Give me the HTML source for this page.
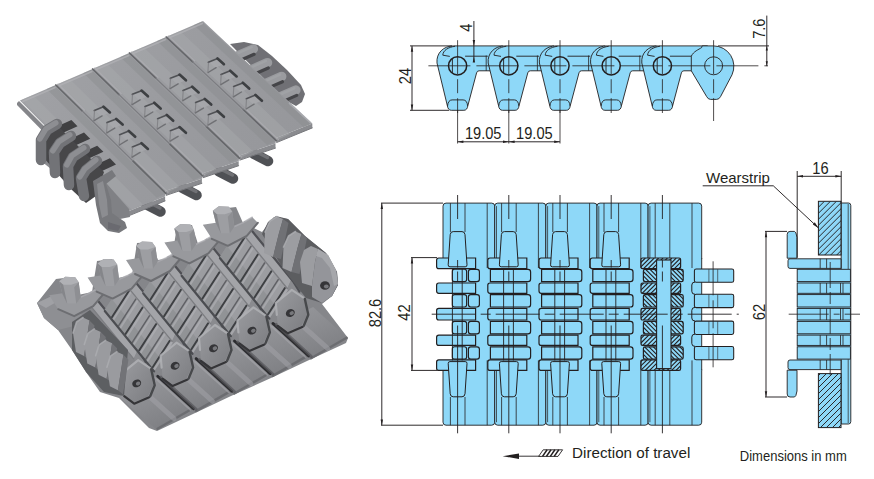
<!DOCTYPE html>
<html><head><meta charset="utf-8"><title>Chain</title>
<style>
html,body{margin:0;padding:0;background:#fff;}
svg{display:block;font-family:"Liberation Sans",sans-serif;}
</style></head><body>
<svg width="874" height="479" viewBox="0 0 874 479">
<rect width="874" height="479" fill="#fff"/>
<g stroke="#231f20" stroke-width="0.9" fill="#8ed8f8" stroke-linejoin="round">
<path d="M453.6,45.9 L502.8,45.9 L502.8,70.8 L479.1,70.8 Q477.2,70.8 476.6,72.8 L467.9,105.5 Q467.2,110.3 463.9,110.3 L451.3,110.3 Q448.0,110.3 447.3,105.5 L437.0,63.0 C436.0,53.0 443.6,45.9 453.6,45.9 Z"/>
<path d="M465.1,56.2 L487.8,56.2" fill="none"/>
<path d="M455.1,46.3 C448.1,47.1 443.0,50.5 442.8,55.2 L449.8,56.4" fill="none"/>
<path d="M447.5,106.0 Q448.2,99.9 452.1,99.9 L463.1,99.9 Q467.0,99.9 467.7,106.0" fill="none"/>
<path d="M504.8,45.9 L554.0,45.9 L554.0,70.8 L530.3,70.8 Q528.4,70.8 527.8,72.8 L519.1,105.5 Q518.4,110.3 515.1,110.3 L502.5,110.3 Q499.2,110.3 498.5,105.5 L488.2,63.0 C487.2,53.0 494.8,45.9 504.8,45.9 Z"/>
<path d="M486.2,55.5 L486.2,70.8" fill="none" stroke-width="0.8"/>
<path d="M516.3,56.2 L539.0,56.2" fill="none"/>
<path d="M506.3,46.3 C499.3,47.1 494.2,50.5 494.0,55.2 L501.0,56.4" fill="none"/>
<path d="M498.7,106.0 Q499.4,99.9 503.3,99.9 L514.3,99.9 Q518.2,99.9 518.9,106.0" fill="none"/>
<path d="M556.0,45.9 L605.2,45.9 L605.2,70.8 L581.5,70.8 Q579.6,70.8 579.0,72.8 L570.3,105.5 Q569.6,110.3 566.3,110.3 L553.7,110.3 Q550.4,110.3 549.7,105.5 L539.4,63.0 C538.4,53.0 546.0,45.9 556.0,45.9 Z"/>
<path d="M537.4,55.5 L537.4,70.8" fill="none" stroke-width="0.8"/>
<path d="M567.5,56.2 L590.2,56.2" fill="none"/>
<path d="M557.5,46.3 C550.5,47.1 545.4,50.5 545.2,55.2 L552.2,56.4" fill="none"/>
<path d="M549.9,106.0 Q550.6,99.9 554.5,99.9 L565.5,99.9 Q569.4,99.9 570.1,106.0" fill="none"/>
<path d="M607.2,45.9 L656.4,45.9 L656.4,70.8 L632.7,70.8 Q630.8,70.8 630.2,72.8 L621.5,105.5 Q620.8,110.3 617.5,110.3 L604.9,110.3 Q601.6,110.3 600.9,105.5 L590.6,63.0 C589.6,53.0 597.2,45.9 607.2,45.9 Z"/>
<path d="M588.6,55.5 L588.6,70.8" fill="none" stroke-width="0.8"/>
<path d="M618.7,56.2 L641.4,56.2" fill="none"/>
<path d="M608.7,46.3 C601.7,47.1 596.6,50.5 596.4,55.2 L603.4,56.4" fill="none"/>
<path d="M601.1,106.0 Q601.8,99.9 605.7,99.9 L616.7,99.9 Q620.6,99.9 621.3,106.0" fill="none"/>
<path d="M658.4,45.9 L707.6,45.9 L707.6,70.8 L683.9,70.8 Q682.0,70.8 681.4,72.8 L672.7,105.5 Q672.0,110.3 668.7,110.3 L656.1,110.3 Q652.8,110.3 652.1,105.5 L641.8,63.0 C640.8,53.0 648.4,45.9 658.4,45.9 Z"/>
<path d="M639.8,55.5 L639.8,70.8" fill="none" stroke-width="0.8"/>
<path d="M669.9,56.2 L692.6,56.2" fill="none"/>
<path d="M659.9,46.3 C652.9,47.1 647.8,50.5 647.6,55.2 L654.6,56.4" fill="none"/>
<path d="M652.3,106.0 Q653.0,99.9 656.9,99.9 L667.9,99.9 Q671.8,99.9 672.5,106.0" fill="none"/>
<path d="M702.2,45.9 L713.6,45.9 A20.4,20.4 0 0 1 732.0,74.8 L720.6,96.5 Q719.2,99.4 716.6,99.4 L710.6,99.4 Q708.0,99.4 706.6,96.5 L691.3,70.8 L691.3,56.2 C693.6,51.3 698.6,49.6 701.6,47.6 L702.2,45.9 Z"/>
</g>
<circle cx="457.6" cy="65.8" r="9.1" fill="#8ed8f8" stroke="#231f20" stroke-width="1.5"/>
<path d="M452.4,58.8 L452.4,72.8" stroke="#231f20" stroke-width="0.9"/>
<circle cx="508.8" cy="65.8" r="9.1" fill="#8ed8f8" stroke="#231f20" stroke-width="1.5"/>
<path d="M503.6,58.8 L503.6,72.8" stroke="#231f20" stroke-width="0.9"/>
<circle cx="560.0" cy="65.8" r="9.1" fill="#8ed8f8" stroke="#231f20" stroke-width="1.5"/>
<path d="M554.8,58.8 L554.8,72.8" stroke="#231f20" stroke-width="0.9"/>
<circle cx="611.2" cy="65.8" r="9.1" fill="#8ed8f8" stroke="#231f20" stroke-width="1.5"/>
<path d="M606.0,58.8 L606.0,72.8" stroke="#231f20" stroke-width="0.9"/>
<circle cx="662.4" cy="65.8" r="9.1" fill="#8ed8f8" stroke="#231f20" stroke-width="1.5"/>
<path d="M657.2,58.8 L657.2,72.8" stroke="#231f20" stroke-width="0.9"/>
<circle cx="713.6" cy="65.8" r="9.0" fill="#8ed8f8" stroke="#231f20" stroke-width="0.9"/>
<line x1="428.4" y1="65.8" x2="768.0" y2="65.8" stroke="#231f20" stroke-width="0.80" stroke-dasharray="42 6"/>
<line x1="457.6" y1="40.2" x2="457.6" y2="113.0" stroke="#231f20" stroke-width="0.80" stroke-dasharray="34 5 14 5 30"/>
<line x1="457.6" y1="110.0" x2="457.6" y2="143.5" stroke="#231f20" stroke-width="0.80"/>
<line x1="508.8" y1="40.2" x2="508.8" y2="113.0" stroke="#231f20" stroke-width="0.80" stroke-dasharray="34 5 14 5 30"/>
<line x1="508.8" y1="110.0" x2="508.8" y2="143.5" stroke="#231f20" stroke-width="0.80"/>
<line x1="560.0" y1="40.2" x2="560.0" y2="113.0" stroke="#231f20" stroke-width="0.80" stroke-dasharray="34 5 14 5 30"/>
<line x1="560.0" y1="110.0" x2="560.0" y2="143.5" stroke="#231f20" stroke-width="0.80"/>
<line x1="611.2" y1="40.2" x2="611.2" y2="113.0" stroke="#231f20" stroke-width="0.80" stroke-dasharray="34 5 14 5 30"/>
<line x1="662.4" y1="40.2" x2="662.4" y2="113.0" stroke="#231f20" stroke-width="0.80" stroke-dasharray="34 5 14 5 30"/>
<line x1="713.6" y1="40.2" x2="713.6" y2="121.0" stroke="#231f20" stroke-width="0.80" stroke-dasharray="34 5 14 5 30"/>
<line x1="410.0" y1="45.9" x2="452.0" y2="45.9" stroke="#231f20" stroke-width="0.95"/>
<line x1="410.0" y1="110.3" x2="449.0" y2="110.3" stroke="#231f20" stroke-width="0.95"/>
<line x1="412.0" y1="45.9" x2="412.0" y2="110.3" stroke="#231f20" stroke-width="0.95"/>
<polygon points="412.0,45.9 410.8,51.7 413.2,51.7" fill="#231f20"/>
<polygon points="412.0,110.3 410.8,104.5 413.2,104.5" fill="#231f20"/>
<text x="410.6" y="76.0" font-size="16.0" text-anchor="middle" fill="#231f20" textLength="16.3" lengthAdjust="spacingAndGlyphs" transform="rotate(-90 410.6 76.0)">24</text>
<line x1="473.9" y1="21.0" x2="473.9" y2="61.5" stroke="#231f20" stroke-width="0.95"/>
<polygon points="473.9,45.9 472.7,40.1 475.1,40.1" fill="#231f20"/>
<polygon points="473.9,56.8 472.7,62.6 475.1,62.6" fill="#231f20"/>
<text x="471.8" y="27.6" font-size="16.0" text-anchor="middle" fill="#231f20" textLength="8.1" lengthAdjust="spacingAndGlyphs" transform="rotate(-90 471.8 27.6)">4</text>
<line x1="718.0" y1="45.9" x2="769.0" y2="45.9" stroke="#231f20" stroke-width="0.95"/>
<line x1="766.8" y1="15.6" x2="766.8" y2="66.1" stroke="#231f20" stroke-width="0.95"/>
<polygon points="766.8,45.9 765.7,50.5 767.9,50.5" fill="#231f20"/>
<polygon points="766.8,65.8 765.7,61.2 767.9,61.2" fill="#231f20"/>
<text x="765.0" y="28.7" font-size="16.0" text-anchor="middle" fill="#231f20" textLength="20.3" lengthAdjust="spacingAndGlyphs" transform="rotate(-90 765.0 28.7)">7.6</text>
<line x1="457.6" y1="141.8" x2="560.0" y2="141.8" stroke="#231f20" stroke-width="0.95"/>
<polygon points="457.6,141.8 463.4,140.6 463.4,143.0" fill="#231f20"/>
<polygon points="508.8,141.8 503.0,140.6 503.0,143.0" fill="#231f20"/>
<polygon points="508.8,141.8 514.6,140.6 514.6,143.0" fill="#231f20"/>
<polygon points="560.0,141.8 554.2,140.6 554.2,143.0" fill="#231f20"/>
<text x="483.2" y="139.0" font-size="16.0" text-anchor="middle" fill="#231f20" textLength="36.6" lengthAdjust="spacingAndGlyphs">19.05</text>
<text x="534.4" y="139.0" font-size="16.0" text-anchor="middle" fill="#231f20" textLength="36.6" lengthAdjust="spacingAndGlyphs">19.05</text>
<path d="M443.0,259.0 L443.0,206.1 Q443.0,203.1 446.0,203.1 L491.7,203.1 Q494.7,203.1 494.7,206.1 L494.7,259.0 Z" fill="#8ed8f8" stroke="#231f20" stroke-width="0.9"/>
<path d="M443.0,369.4 L443.0,422.2 Q443.0,425.2 446.0,425.2 L491.7,425.2 Q494.7,425.2 494.7,422.2 L494.7,369.4 Z" fill="#8ed8f8" stroke="#231f20" stroke-width="0.9"/>
<path d="M494.7,259.0 L494.7,206.1 Q494.7,203.1 497.7,203.1 L542.8,203.1 Q545.8,203.1 545.8,206.1 L545.8,259.0 Z" fill="#8ed8f8" stroke="#231f20" stroke-width="0.9"/>
<path d="M494.7,369.4 L494.7,422.2 Q494.7,425.2 497.7,425.2 L542.8,425.2 Q545.8,425.2 545.8,422.2 L545.8,369.4 Z" fill="#8ed8f8" stroke="#231f20" stroke-width="0.9"/>
<path d="M545.8,259.0 L545.8,206.1 Q545.8,203.1 548.8,203.1 L594.0,203.1 Q597.0,203.1 597.0,206.1 L597.0,259.0 Z" fill="#8ed8f8" stroke="#231f20" stroke-width="0.9"/>
<path d="M545.8,369.4 L545.8,422.2 Q545.8,425.2 548.8,425.2 L594.0,425.2 Q597.0,425.2 597.0,422.2 L597.0,369.4 Z" fill="#8ed8f8" stroke="#231f20" stroke-width="0.9"/>
<path d="M597.0,259.0 L597.0,206.1 Q597.0,203.1 600.0,203.1 L645.1,203.1 Q648.1,203.1 648.1,206.1 L648.1,259.0 Z" fill="#8ed8f8" stroke="#231f20" stroke-width="0.9"/>
<path d="M597.0,369.4 L597.0,422.2 Q597.0,425.2 600.0,425.2 L645.1,425.2 Q648.1,425.2 648.1,422.2 L648.1,369.4 Z" fill="#8ed8f8" stroke="#231f20" stroke-width="0.9"/>
<path d="M648.1,259.0 L648.1,206.1 Q648.1,203.1 651.1,203.1 L698.7,203.1 Q701.7,203.1 701.7,206.1 L701.7,259.0 Z" fill="#8ed8f8" stroke="#231f20" stroke-width="0.9"/>
<path d="M648.1,369.4 L648.1,422.2 Q648.1,425.2 651.1,425.2 L698.7,425.2 Q701.7,425.2 701.7,422.2 L701.7,369.4 Z" fill="#8ed8f8" stroke="#231f20" stroke-width="0.9"/>
<rect x="452" y="258.0" width="249.7" height="112.4" fill="#8ed8f8"/>
<line x1="701.7" y1="258.0" x2="701.7" y2="370.4" stroke="#231f20" stroke-width="0.90"/>
<line x1="450.4" y1="203.1" x2="450.4" y2="232.0" stroke="#231f20" stroke-width="0.80"/>
<line x1="450.4" y1="397.0" x2="450.4" y2="425.2" stroke="#231f20" stroke-width="0.80"/>
<line x1="465.0" y1="203.1" x2="465.0" y2="232.0" stroke="#231f20" stroke-width="0.80"/>
<line x1="465.0" y1="397.0" x2="465.0" y2="425.2" stroke="#231f20" stroke-width="0.80"/>
<line x1="487.2" y1="203.1" x2="487.2" y2="268.0" stroke="#231f20" stroke-width="0.80"/>
<line x1="487.2" y1="360.4" x2="487.2" y2="425.2" stroke="#231f20" stroke-width="0.80"/>
<line x1="496.5" y1="206.1" x2="496.5" y2="260.0" stroke="#231f20" stroke-width="0.70"/>
<line x1="496.5" y1="368.4" x2="496.5" y2="422.2" stroke="#231f20" stroke-width="0.70"/>
<line x1="501.6" y1="203.1" x2="501.6" y2="232.0" stroke="#231f20" stroke-width="0.80"/>
<line x1="501.6" y1="397.0" x2="501.6" y2="425.2" stroke="#231f20" stroke-width="0.80"/>
<line x1="516.2" y1="203.1" x2="516.2" y2="232.0" stroke="#231f20" stroke-width="0.80"/>
<line x1="516.2" y1="397.0" x2="516.2" y2="425.2" stroke="#231f20" stroke-width="0.80"/>
<line x1="538.4" y1="203.1" x2="538.4" y2="268.0" stroke="#231f20" stroke-width="0.80"/>
<line x1="538.4" y1="360.4" x2="538.4" y2="425.2" stroke="#231f20" stroke-width="0.80"/>
<line x1="547.6" y1="206.1" x2="547.6" y2="260.0" stroke="#231f20" stroke-width="0.70"/>
<line x1="547.6" y1="368.4" x2="547.6" y2="422.2" stroke="#231f20" stroke-width="0.70"/>
<line x1="552.8" y1="203.1" x2="552.8" y2="232.0" stroke="#231f20" stroke-width="0.80"/>
<line x1="552.8" y1="397.0" x2="552.8" y2="425.2" stroke="#231f20" stroke-width="0.80"/>
<line x1="567.4" y1="203.1" x2="567.4" y2="232.0" stroke="#231f20" stroke-width="0.80"/>
<line x1="567.4" y1="397.0" x2="567.4" y2="425.2" stroke="#231f20" stroke-width="0.80"/>
<line x1="589.6" y1="203.1" x2="589.6" y2="268.0" stroke="#231f20" stroke-width="0.80"/>
<line x1="589.6" y1="360.4" x2="589.6" y2="425.2" stroke="#231f20" stroke-width="0.80"/>
<line x1="598.8" y1="206.1" x2="598.8" y2="260.0" stroke="#231f20" stroke-width="0.70"/>
<line x1="598.8" y1="368.4" x2="598.8" y2="422.2" stroke="#231f20" stroke-width="0.70"/>
<line x1="604.0" y1="203.1" x2="604.0" y2="232.0" stroke="#231f20" stroke-width="0.80"/>
<line x1="604.0" y1="397.0" x2="604.0" y2="425.2" stroke="#231f20" stroke-width="0.80"/>
<line x1="618.6" y1="203.1" x2="618.6" y2="232.0" stroke="#231f20" stroke-width="0.80"/>
<line x1="618.6" y1="397.0" x2="618.6" y2="425.2" stroke="#231f20" stroke-width="0.80"/>
<line x1="640.8" y1="203.1" x2="640.8" y2="268.0" stroke="#231f20" stroke-width="0.80"/>
<line x1="640.8" y1="360.4" x2="640.8" y2="425.2" stroke="#231f20" stroke-width="0.80"/>
<line x1="649.9" y1="206.1" x2="649.9" y2="260.0" stroke="#231f20" stroke-width="0.70"/>
<line x1="649.9" y1="368.4" x2="649.9" y2="422.2" stroke="#231f20" stroke-width="0.70"/>
<line x1="655.2" y1="203.1" x2="655.2" y2="260.0" stroke="#231f20" stroke-width="0.80"/>
<line x1="655.2" y1="368.4" x2="655.2" y2="425.2" stroke="#231f20" stroke-width="0.80"/>
<line x1="669.8" y1="203.1" x2="669.8" y2="260.0" stroke="#231f20" stroke-width="0.80"/>
<line x1="669.8" y1="368.4" x2="669.8" y2="425.2" stroke="#231f20" stroke-width="0.80"/>
<line x1="692.0" y1="203.1" x2="692.0" y2="268.0" stroke="#231f20" stroke-width="0.80"/>
<line x1="692.0" y1="360.4" x2="692.0" y2="425.2" stroke="#231f20" stroke-width="0.80"/>
<path d="M696.2,269.0 L731.9,269.0 Q733.7,269.0 733.7,270.8 L733.7,280.4 Q733.7,282.2 731.9,282.2 L696.2,282.2 Q694.4,282.2 694.4,280.4 L694.4,270.8 Q694.4,269.0 696.2,269.0 Z" fill="#8ed8f8" stroke="#231f20" stroke-width="1.05"/>
<line x1="708.9" y1="269.3" x2="708.9" y2="282.0" stroke="#231f20" stroke-width="0.60"/>
<line x1="717.7" y1="269.3" x2="717.7" y2="282.0" stroke="#231f20" stroke-width="0.60"/>
<path d="M696.2,294.3 L731.9,294.3 Q733.7,294.3 733.7,296.1 L733.7,305.8 Q733.7,307.6 731.9,307.6 L696.2,307.6 Q694.4,307.6 694.4,305.8 L694.4,296.1 Q694.4,294.3 696.2,294.3 Z" fill="#8ed8f8" stroke="#231f20" stroke-width="1.05"/>
<line x1="708.9" y1="294.6" x2="708.9" y2="307.4" stroke="#231f20" stroke-width="0.60"/>
<line x1="717.7" y1="294.6" x2="717.7" y2="307.4" stroke="#231f20" stroke-width="0.60"/>
<path d="M696.2,321.1 L731.9,321.1 Q733.7,321.1 733.7,322.9 L733.7,332.6 Q733.7,334.4 731.9,334.4 L696.2,334.4 Q694.4,334.4 694.4,332.6 L694.4,322.9 Q694.4,321.1 696.2,321.1 Z" fill="#8ed8f8" stroke="#231f20" stroke-width="1.05"/>
<line x1="708.9" y1="321.4" x2="708.9" y2="334.2" stroke="#231f20" stroke-width="0.60"/>
<line x1="717.7" y1="321.4" x2="717.7" y2="334.2" stroke="#231f20" stroke-width="0.60"/>
<path d="M696.2,346.5 L731.9,346.5 Q733.7,346.5 733.7,348.3 L733.7,357.9 Q733.7,359.7 731.9,359.7 L696.2,359.7 Q694.4,359.7 694.4,357.9 L694.4,348.3 Q694.4,346.5 696.2,346.5 Z" fill="#8ed8f8" stroke="#231f20" stroke-width="1.05"/>
<line x1="708.9" y1="346.8" x2="708.9" y2="359.5" stroke="#231f20" stroke-width="0.60"/>
<line x1="717.7" y1="346.8" x2="717.7" y2="359.5" stroke="#231f20" stroke-width="0.60"/>
<path d="M695.0,282.0 Q691.8,282.0 691.8,285.0 L691.8,291.3 Q691.8,294.3 695.0,294.3" fill="none" stroke="#231f20" stroke-width="1.0"/>
<path d="M695.0,307.4 Q691.8,307.4 691.8,310.4 L691.8,318.0 Q691.8,321.0 695.0,321.0" fill="none" stroke="#231f20" stroke-width="1.0"/>
<path d="M695.0,334.1 Q691.8,334.1 691.8,337.1 L691.8,343.4 Q691.8,346.4 695.0,346.4" fill="none" stroke="#231f20" stroke-width="1.0"/>
<path d="M438.8,258.0 L475.6,258.0 Q475.6,258.0 475.6,258.0 L475.6,268.6 Q475.6,268.6 475.6,268.6 L438.8,268.6 Q436.6,268.6 436.6,266.4 L436.6,260.2 Q436.6,258.0 438.8,258.0 Z" fill="#8ed8f8" stroke="#231f20" stroke-width="1.20"/>
<path d="M454.5,269.3 L464.4,269.3 Q466.6,269.3 466.6,271.5 L466.6,279.4 Q466.6,281.6 464.4,281.6 L454.5,281.6 Q452.3,281.6 452.3,279.4 L452.3,271.5 Q452.3,269.3 454.5,269.3 Z" fill="#8ed8f8" stroke="#231f20" stroke-width="1.10"/>
<path d="M470.8,269.3 L477.0,269.3 Q479.4,269.3 479.4,271.7 L479.4,279.2 Q479.4,281.6 477.0,281.6 L470.8,281.6 Q468.4,281.6 468.4,279.2 L468.4,271.7 Q468.4,269.3 470.8,269.3 Z" fill="#8ed8f8" stroke="#231f20" stroke-width="1.20"/>
<path d="M438.8,283.0 L475.6,283.0 Q475.6,283.0 475.6,283.0 L475.6,293.3 Q475.6,293.3 475.6,293.3 L438.8,293.3 Q436.6,293.3 436.6,291.1 L436.6,285.2 Q436.6,283.0 438.8,283.0 Z" fill="#8ed8f8" stroke="#231f20" stroke-width="1.20"/>
<path d="M454.5,294.6 L464.4,294.6 Q466.6,294.6 466.6,296.8 L466.6,304.8 Q466.6,307.0 464.4,307.0 L454.5,307.0 Q452.3,307.0 452.3,304.8 L452.3,296.8 Q452.3,294.6 454.5,294.6 Z" fill="#8ed8f8" stroke="#231f20" stroke-width="1.10"/>
<path d="M470.8,294.6 L477.0,294.6 Q479.4,294.6 479.4,297.0 L479.4,304.6 Q479.4,307.0 477.0,307.0 L470.8,307.0 Q468.4,307.0 468.4,304.6 L468.4,297.0 Q468.4,294.6 470.8,294.6 Z" fill="#8ed8f8" stroke="#231f20" stroke-width="1.20"/>
<path d="M438.8,308.4 L475.6,308.4 Q475.6,308.4 475.6,308.4 L475.6,320.0 Q475.6,320.0 475.6,320.0 L438.8,320.0 Q436.6,320.0 436.6,317.8 L436.6,310.6 Q436.6,308.4 438.8,308.4 Z" fill="#8ed8f8" stroke="#231f20" stroke-width="1.20"/>
<path d="M454.5,321.4 L464.4,321.4 Q466.6,321.4 466.6,323.6 L466.6,331.6 Q466.6,333.8 464.4,333.8 L454.5,333.8 Q452.3,333.8 452.3,331.6 L452.3,323.6 Q452.3,321.4 454.5,321.4 Z" fill="#8ed8f8" stroke="#231f20" stroke-width="1.10"/>
<path d="M470.8,321.4 L477.0,321.4 Q479.4,321.4 479.4,323.8 L479.4,331.4 Q479.4,333.8 477.0,333.8 L470.8,333.8 Q468.4,333.8 468.4,331.4 L468.4,323.8 Q468.4,321.4 470.8,321.4 Z" fill="#8ed8f8" stroke="#231f20" stroke-width="1.20"/>
<path d="M438.8,335.1 L475.6,335.1 Q475.6,335.1 475.6,335.1 L475.6,345.4 Q475.6,345.4 475.6,345.4 L438.8,345.4 Q436.6,345.4 436.6,343.2 L436.6,337.3 Q436.6,335.1 438.8,335.1 Z" fill="#8ed8f8" stroke="#231f20" stroke-width="1.20"/>
<path d="M454.5,346.8 L464.4,346.8 Q466.6,346.8 466.6,349.0 L466.6,356.9 Q466.6,359.1 464.4,359.1 L454.5,359.1 Q452.3,359.1 452.3,356.9 L452.3,349.0 Q452.3,346.8 454.5,346.8 Z" fill="#8ed8f8" stroke="#231f20" stroke-width="1.10"/>
<path d="M470.8,346.8 L477.0,346.8 Q479.4,346.8 479.4,349.2 L479.4,356.7 Q479.4,359.1 477.0,359.1 L470.8,359.1 Q468.4,359.1 468.4,356.7 L468.4,349.2 Q468.4,346.8 470.8,346.8 Z" fill="#8ed8f8" stroke="#231f20" stroke-width="1.20"/>
<path d="M438.8,359.8 L475.6,359.8 Q475.6,359.8 475.6,359.8 L475.6,370.4 Q475.6,370.4 475.6,370.4 L438.8,370.4 Q436.6,370.4 436.6,368.2 L436.6,362.0 Q436.6,359.8 438.8,359.8 Z" fill="#8ed8f8" stroke="#231f20" stroke-width="1.20"/>
<line x1="452.4" y1="268.0" x2="452.4" y2="360.4" stroke="#231f20" stroke-width="0.90"/>
<line x1="462.2" y1="268.0" x2="462.2" y2="360.4" stroke="#231f20" stroke-width="0.90"/>
<path d="M490.0,258.0 L526.8,258.0 Q526.8,258.0 526.8,258.0 L526.8,268.6 Q526.8,268.6 526.8,268.6 L490.0,268.6 Q487.8,268.6 487.8,266.4 L487.8,260.2 Q487.8,258.0 490.0,258.0 Z" fill="#8ed8f8" stroke="#231f20" stroke-width="1.20"/>
<path d="M490.4,269.3 L528.0,269.3 Q530.6,269.3 530.6,271.9 L530.6,279.0 Q530.6,281.6 528.0,281.6 L490.4,281.6 Q490.4,281.6 490.4,281.6 L490.4,269.3 Q490.4,269.3 490.4,269.3 Z" fill="#8ed8f8" stroke="#231f20" stroke-width="1.20"/>
<path d="M490.0,283.0 L526.8,283.0 Q526.8,283.0 526.8,283.0 L526.8,293.3 Q526.8,293.3 526.8,293.3 L490.0,293.3 Q487.8,293.3 487.8,291.1 L487.8,285.2 Q487.8,283.0 490.0,283.0 Z" fill="#8ed8f8" stroke="#231f20" stroke-width="1.20"/>
<path d="M490.4,294.6 L528.0,294.6 Q530.6,294.6 530.6,297.2 L530.6,304.4 Q530.6,307.0 528.0,307.0 L490.4,307.0 Q490.4,307.0 490.4,307.0 L490.4,294.6 Q490.4,294.6 490.4,294.6 Z" fill="#8ed8f8" stroke="#231f20" stroke-width="1.20"/>
<path d="M490.0,308.4 L526.8,308.4 Q526.8,308.4 526.8,308.4 L526.8,320.0 Q526.8,320.0 526.8,320.0 L490.0,320.0 Q487.8,320.0 487.8,317.8 L487.8,310.6 Q487.8,308.4 490.0,308.4 Z" fill="#8ed8f8" stroke="#231f20" stroke-width="1.20"/>
<path d="M490.4,321.4 L528.0,321.4 Q530.6,321.4 530.6,324.0 L530.6,331.2 Q530.6,333.8 528.0,333.8 L490.4,333.8 Q490.4,333.8 490.4,333.8 L490.4,321.4 Q490.4,321.4 490.4,321.4 Z" fill="#8ed8f8" stroke="#231f20" stroke-width="1.20"/>
<path d="M490.0,335.1 L526.8,335.1 Q526.8,335.1 526.8,335.1 L526.8,345.4 Q526.8,345.4 526.8,345.4 L490.0,345.4 Q487.8,345.4 487.8,343.2 L487.8,337.3 Q487.8,335.1 490.0,335.1 Z" fill="#8ed8f8" stroke="#231f20" stroke-width="1.20"/>
<path d="M490.4,346.8 L528.0,346.8 Q530.6,346.8 530.6,349.4 L530.6,356.5 Q530.6,359.1 528.0,359.1 L490.4,359.1 Q490.4,359.1 490.4,359.1 L490.4,346.8 Q490.4,346.8 490.4,346.8 Z" fill="#8ed8f8" stroke="#231f20" stroke-width="1.20"/>
<path d="M490.0,359.8 L526.8,359.8 Q526.8,359.8 526.8,359.8 L526.8,370.4 Q526.8,370.4 526.8,370.4 L490.0,370.4 Q487.8,370.4 487.8,368.2 L487.8,362.0 Q487.8,359.8 490.0,359.8 Z" fill="#8ed8f8" stroke="#231f20" stroke-width="1.20"/>
<line x1="503.6" y1="268.0" x2="503.6" y2="360.4" stroke="#231f20" stroke-width="0.90"/>
<line x1="513.4" y1="268.0" x2="513.4" y2="360.4" stroke="#231f20" stroke-width="0.90"/>
<path d="M541.2,258.0 L578.0,258.0 Q578.0,258.0 578.0,258.0 L578.0,268.6 Q578.0,268.6 578.0,268.6 L541.2,268.6 Q539.0,268.6 539.0,266.4 L539.0,260.2 Q539.0,258.0 541.2,258.0 Z" fill="#8ed8f8" stroke="#231f20" stroke-width="1.20"/>
<path d="M541.6,269.3 L579.2,269.3 Q581.8,269.3 581.8,271.9 L581.8,279.0 Q581.8,281.6 579.2,281.6 L541.6,281.6 Q541.6,281.6 541.6,281.6 L541.6,269.3 Q541.6,269.3 541.6,269.3 Z" fill="#8ed8f8" stroke="#231f20" stroke-width="1.20"/>
<path d="M541.2,283.0 L578.0,283.0 Q578.0,283.0 578.0,283.0 L578.0,293.3 Q578.0,293.3 578.0,293.3 L541.2,293.3 Q539.0,293.3 539.0,291.1 L539.0,285.2 Q539.0,283.0 541.2,283.0 Z" fill="#8ed8f8" stroke="#231f20" stroke-width="1.20"/>
<path d="M541.6,294.6 L579.2,294.6 Q581.8,294.6 581.8,297.2 L581.8,304.4 Q581.8,307.0 579.2,307.0 L541.6,307.0 Q541.6,307.0 541.6,307.0 L541.6,294.6 Q541.6,294.6 541.6,294.6 Z" fill="#8ed8f8" stroke="#231f20" stroke-width="1.20"/>
<path d="M541.2,308.4 L578.0,308.4 Q578.0,308.4 578.0,308.4 L578.0,320.0 Q578.0,320.0 578.0,320.0 L541.2,320.0 Q539.0,320.0 539.0,317.8 L539.0,310.6 Q539.0,308.4 541.2,308.4 Z" fill="#8ed8f8" stroke="#231f20" stroke-width="1.20"/>
<path d="M541.6,321.4 L579.2,321.4 Q581.8,321.4 581.8,324.0 L581.8,331.2 Q581.8,333.8 579.2,333.8 L541.6,333.8 Q541.6,333.8 541.6,333.8 L541.6,321.4 Q541.6,321.4 541.6,321.4 Z" fill="#8ed8f8" stroke="#231f20" stroke-width="1.20"/>
<path d="M541.2,335.1 L578.0,335.1 Q578.0,335.1 578.0,335.1 L578.0,345.4 Q578.0,345.4 578.0,345.4 L541.2,345.4 Q539.0,345.4 539.0,343.2 L539.0,337.3 Q539.0,335.1 541.2,335.1 Z" fill="#8ed8f8" stroke="#231f20" stroke-width="1.20"/>
<path d="M541.6,346.8 L579.2,346.8 Q581.8,346.8 581.8,349.4 L581.8,356.5 Q581.8,359.1 579.2,359.1 L541.6,359.1 Q541.6,359.1 541.6,359.1 L541.6,346.8 Q541.6,346.8 541.6,346.8 Z" fill="#8ed8f8" stroke="#231f20" stroke-width="1.20"/>
<path d="M541.2,359.8 L578.0,359.8 Q578.0,359.8 578.0,359.8 L578.0,370.4 Q578.0,370.4 578.0,370.4 L541.2,370.4 Q539.0,370.4 539.0,368.2 L539.0,362.0 Q539.0,359.8 541.2,359.8 Z" fill="#8ed8f8" stroke="#231f20" stroke-width="1.20"/>
<line x1="554.8" y1="268.0" x2="554.8" y2="360.4" stroke="#231f20" stroke-width="0.90"/>
<line x1="564.6" y1="268.0" x2="564.6" y2="360.4" stroke="#231f20" stroke-width="0.90"/>
<path d="M592.4,258.0 L629.2,258.0 Q629.2,258.0 629.2,258.0 L629.2,268.6 Q629.2,268.6 629.2,268.6 L592.4,268.6 Q590.2,268.6 590.2,266.4 L590.2,260.2 Q590.2,258.0 592.4,258.0 Z" fill="#8ed8f8" stroke="#231f20" stroke-width="1.20"/>
<path d="M592.8,269.3 L630.4,269.3 Q633.0,269.3 633.0,271.9 L633.0,279.0 Q633.0,281.6 630.4,281.6 L592.8,281.6 Q592.8,281.6 592.8,281.6 L592.8,269.3 Q592.8,269.3 592.8,269.3 Z" fill="#8ed8f8" stroke="#231f20" stroke-width="1.20"/>
<path d="M592.4,283.0 L629.2,283.0 Q629.2,283.0 629.2,283.0 L629.2,293.3 Q629.2,293.3 629.2,293.3 L592.4,293.3 Q590.2,293.3 590.2,291.1 L590.2,285.2 Q590.2,283.0 592.4,283.0 Z" fill="#8ed8f8" stroke="#231f20" stroke-width="1.20"/>
<path d="M592.8,294.6 L630.4,294.6 Q633.0,294.6 633.0,297.2 L633.0,304.4 Q633.0,307.0 630.4,307.0 L592.8,307.0 Q592.8,307.0 592.8,307.0 L592.8,294.6 Q592.8,294.6 592.8,294.6 Z" fill="#8ed8f8" stroke="#231f20" stroke-width="1.20"/>
<path d="M592.4,308.4 L629.2,308.4 Q629.2,308.4 629.2,308.4 L629.2,320.0 Q629.2,320.0 629.2,320.0 L592.4,320.0 Q590.2,320.0 590.2,317.8 L590.2,310.6 Q590.2,308.4 592.4,308.4 Z" fill="#8ed8f8" stroke="#231f20" stroke-width="1.20"/>
<path d="M592.8,321.4 L630.4,321.4 Q633.0,321.4 633.0,324.0 L633.0,331.2 Q633.0,333.8 630.4,333.8 L592.8,333.8 Q592.8,333.8 592.8,333.8 L592.8,321.4 Q592.8,321.4 592.8,321.4 Z" fill="#8ed8f8" stroke="#231f20" stroke-width="1.20"/>
<path d="M592.4,335.1 L629.2,335.1 Q629.2,335.1 629.2,335.1 L629.2,345.4 Q629.2,345.4 629.2,345.4 L592.4,345.4 Q590.2,345.4 590.2,343.2 L590.2,337.3 Q590.2,335.1 592.4,335.1 Z" fill="#8ed8f8" stroke="#231f20" stroke-width="1.20"/>
<path d="M592.8,346.8 L630.4,346.8 Q633.0,346.8 633.0,349.4 L633.0,356.5 Q633.0,359.1 630.4,359.1 L592.8,359.1 Q592.8,359.1 592.8,359.1 L592.8,346.8 Q592.8,346.8 592.8,346.8 Z" fill="#8ed8f8" stroke="#231f20" stroke-width="1.20"/>
<path d="M592.4,359.8 L629.2,359.8 Q629.2,359.8 629.2,359.8 L629.2,370.4 Q629.2,370.4 629.2,370.4 L592.4,370.4 Q590.2,370.4 590.2,368.2 L590.2,362.0 Q590.2,359.8 592.4,359.8 Z" fill="#8ed8f8" stroke="#231f20" stroke-width="1.20"/>
<line x1="606.0" y1="268.0" x2="606.0" y2="360.4" stroke="#231f20" stroke-width="0.90"/>
<line x1="615.8" y1="268.0" x2="615.8" y2="360.4" stroke="#231f20" stroke-width="0.90"/>
<path d="M448.2,264.8 L450.2,234.6 Q450.5,231.6 453.2,231.6 L462.0,231.6 Q464.7,231.6 465.0,234.6 L467.0,264.8 Q467.2,266.8 465.2,266.8 L450.0,266.8 Q448.0,266.8 448.2,264.8 Z" fill="#8ed8f8" stroke="#231f20" stroke-width="1.0"/>
<path d="M448.2,363.6 L450.2,393.8 Q450.5,396.8 453.2,396.8 L462.0,396.8 Q464.7,396.8 465.0,393.8 L467.0,363.6 Q467.2,361.6 465.2,361.6 L450.0,361.6 Q448.0,361.6 448.2,363.6 Z" fill="#8ed8f8" stroke="#231f20" stroke-width="1.0"/>
<path d="M499.4,264.8 L501.4,234.6 Q501.7,231.6 504.4,231.6 L513.2,231.6 Q515.9,231.6 516.2,234.6 L518.2,264.8 Q518.4,266.8 516.4,266.8 L501.2,266.8 Q499.2,266.8 499.4,264.8 Z" fill="#8ed8f8" stroke="#231f20" stroke-width="1.0"/>
<path d="M499.4,363.6 L501.4,393.8 Q501.7,396.8 504.4,396.8 L513.2,396.8 Q515.9,396.8 516.2,393.8 L518.2,363.6 Q518.4,361.6 516.4,361.6 L501.2,361.6 Q499.2,361.6 499.4,363.6 Z" fill="#8ed8f8" stroke="#231f20" stroke-width="1.0"/>
<path d="M550.6,264.8 L552.6,234.6 Q552.9,231.6 555.6,231.6 L564.4,231.6 Q567.1,231.6 567.4,234.6 L569.4,264.8 Q569.6,266.8 567.6,266.8 L552.4,266.8 Q550.4,266.8 550.6,264.8 Z" fill="#8ed8f8" stroke="#231f20" stroke-width="1.0"/>
<path d="M550.6,363.6 L552.6,393.8 Q552.9,396.8 555.6,396.8 L564.4,396.8 Q567.1,396.8 567.4,393.8 L569.4,363.6 Q569.6,361.6 567.6,361.6 L552.4,361.6 Q550.4,361.6 550.6,363.6 Z" fill="#8ed8f8" stroke="#231f20" stroke-width="1.0"/>
<path d="M601.8,264.8 L603.8,234.6 Q604.1,231.6 606.8,231.6 L615.6,231.6 Q618.3,231.6 618.6,234.6 L620.6,264.8 Q620.8,266.8 618.8,266.8 L603.6,266.8 Q601.6,266.8 601.8,264.8 Z" fill="#8ed8f8" stroke="#231f20" stroke-width="1.0"/>
<path d="M601.8,363.6 L603.8,393.8 Q604.1,396.8 606.8,396.8 L615.6,396.8 Q618.3,396.8 618.6,393.8 L620.6,363.6 Q620.8,361.6 618.8,361.6 L603.6,361.6 Q601.6,361.6 601.8,363.6 Z" fill="#8ed8f8" stroke="#231f20" stroke-width="1.0"/>
<defs><pattern id="hf" width="3.6" height="3.6" patternUnits="userSpaceOnUse" patternTransform="rotate(45)"><rect width="3.6" height="3.6" fill="#8ed8f8"/><line x1="0" y1="0" x2="0" y2="3.6" stroke="#231f20" stroke-width="1.5"/></pattern>
<pattern id="hb" width="3.6" height="3.6" patternUnits="userSpaceOnUse" patternTransform="rotate(-45)"><rect width="3.6" height="3.6" fill="#8ed8f8"/><line x1="0" y1="0" x2="0" y2="3.6" stroke="#231f20" stroke-width="1.5"/></pattern></defs>
<clipPath id="hc1"><rect x="641.0" y="258.0" width="39.6" height="10.6" rx="1.6"/></clipPath>
<rect x="641.0" y="258.0" width="39.6" height="10.6" rx="1.6" fill="#8ed8f8"/>
<g clip-path="url(#hc1)" stroke="#231f20" stroke-width="1.10">
<line x1="626.0" y1="268.6" x2="636.6" y2="258.0"/>
<line x1="630.4" y1="268.6" x2="641.0" y2="258.0"/>
<line x1="634.8" y1="268.6" x2="645.4" y2="258.0"/>
<line x1="639.2" y1="268.6" x2="649.8" y2="258.0"/>
<line x1="643.6" y1="268.6" x2="654.2" y2="258.0"/>
<line x1="648.0" y1="268.6" x2="658.6" y2="258.0"/>
<line x1="652.4" y1="268.6" x2="663.0" y2="258.0"/>
<line x1="656.8" y1="268.6" x2="667.4" y2="258.0"/>
<line x1="661.2" y1="268.6" x2="671.8" y2="258.0"/>
<line x1="665.6" y1="268.6" x2="676.2" y2="258.0"/>
<line x1="670.0" y1="268.6" x2="680.6" y2="258.0"/>
<line x1="674.4" y1="268.6" x2="685.0" y2="258.0"/>
<line x1="678.8" y1="268.6" x2="689.4" y2="258.0"/>
<line x1="683.2" y1="268.6" x2="693.8" y2="258.0"/>
<line x1="687.6" y1="268.6" x2="698.2" y2="258.0"/>
<line x1="692.0" y1="268.6" x2="702.6" y2="258.0"/>
</g>
<rect x="641.0" y="258.0" width="39.6" height="10.6" rx="1.6" fill="none" stroke="#231f20" stroke-width="1.20"/>
<clipPath id="hc2"><rect x="643.4" y="269.3" width="39.8" height="12.3" rx="1.6"/></clipPath>
<rect x="643.4" y="269.3" width="39.8" height="12.3" rx="1.6" fill="#8ed8f8"/>
<g clip-path="url(#hc2)" stroke="#231f20" stroke-width="1.10">
<line x1="628.0" y1="269.3" x2="640.3" y2="281.6"/>
<line x1="632.4" y1="269.3" x2="644.7" y2="281.6"/>
<line x1="636.8" y1="269.3" x2="649.1" y2="281.6"/>
<line x1="641.2" y1="269.3" x2="653.5" y2="281.6"/>
<line x1="645.6" y1="269.3" x2="657.9" y2="281.6"/>
<line x1="650.0" y1="269.3" x2="662.3" y2="281.6"/>
<line x1="654.4" y1="269.3" x2="666.7" y2="281.6"/>
<line x1="658.8" y1="269.3" x2="671.1" y2="281.6"/>
<line x1="663.2" y1="269.3" x2="675.5" y2="281.6"/>
<line x1="667.6" y1="269.3" x2="679.9" y2="281.6"/>
<line x1="672.0" y1="269.3" x2="684.3" y2="281.6"/>
<line x1="676.4" y1="269.3" x2="688.7" y2="281.6"/>
<line x1="680.8" y1="269.3" x2="693.1" y2="281.6"/>
<line x1="685.2" y1="269.3" x2="697.5" y2="281.6"/>
<line x1="689.6" y1="269.3" x2="701.9" y2="281.6"/>
<line x1="694.0" y1="269.3" x2="706.3" y2="281.6"/>
<line x1="698.4" y1="269.3" x2="710.7" y2="281.6"/>
</g>
<rect x="643.4" y="269.3" width="39.8" height="12.3" rx="1.6" fill="none" stroke="#231f20" stroke-width="1.20"/>
<clipPath id="hc3"><rect x="641.0" y="283.0" width="39.6" height="10.3" rx="1.6"/></clipPath>
<rect x="641.0" y="283.0" width="39.6" height="10.3" rx="1.6" fill="#8ed8f8"/>
<g clip-path="url(#hc3)" stroke="#231f20" stroke-width="1.10">
<line x1="628.9" y1="293.3" x2="639.2" y2="283.0"/>
<line x1="633.3" y1="293.3" x2="643.6" y2="283.0"/>
<line x1="637.7" y1="293.3" x2="648.0" y2="283.0"/>
<line x1="642.1" y1="293.3" x2="652.4" y2="283.0"/>
<line x1="646.5" y1="293.3" x2="656.8" y2="283.0"/>
<line x1="650.9" y1="293.3" x2="661.2" y2="283.0"/>
<line x1="655.3" y1="293.3" x2="665.6" y2="283.0"/>
<line x1="659.7" y1="293.3" x2="670.0" y2="283.0"/>
<line x1="664.1" y1="293.3" x2="674.4" y2="283.0"/>
<line x1="668.5" y1="293.3" x2="678.8" y2="283.0"/>
<line x1="672.9" y1="293.3" x2="683.2" y2="283.0"/>
<line x1="677.3" y1="293.3" x2="687.6" y2="283.0"/>
<line x1="681.7" y1="293.3" x2="692.0" y2="283.0"/>
<line x1="686.1" y1="293.3" x2="696.4" y2="283.0"/>
<line x1="690.5" y1="293.3" x2="700.8" y2="283.0"/>
<line x1="694.9" y1="293.3" x2="705.2" y2="283.0"/>
</g>
<rect x="641.0" y="283.0" width="39.6" height="10.3" rx="1.6" fill="none" stroke="#231f20" stroke-width="1.20"/>
<clipPath id="hc4"><rect x="643.4" y="294.6" width="39.8" height="12.4" rx="1.6"/></clipPath>
<rect x="643.4" y="294.6" width="39.8" height="12.4" rx="1.6" fill="#8ed8f8"/>
<g clip-path="url(#hc4)" stroke="#231f20" stroke-width="1.10">
<line x1="630.5" y1="294.6" x2="642.9" y2="307.0"/>
<line x1="634.9" y1="294.6" x2="647.3" y2="307.0"/>
<line x1="639.3" y1="294.6" x2="651.7" y2="307.0"/>
<line x1="643.7" y1="294.6" x2="656.1" y2="307.0"/>
<line x1="648.1" y1="294.6" x2="660.5" y2="307.0"/>
<line x1="652.5" y1="294.6" x2="664.9" y2="307.0"/>
<line x1="656.9" y1="294.6" x2="669.3" y2="307.0"/>
<line x1="661.3" y1="294.6" x2="673.7" y2="307.0"/>
<line x1="665.7" y1="294.6" x2="678.1" y2="307.0"/>
<line x1="670.1" y1="294.6" x2="682.5" y2="307.0"/>
<line x1="674.5" y1="294.6" x2="686.9" y2="307.0"/>
<line x1="678.9" y1="294.6" x2="691.3" y2="307.0"/>
<line x1="683.3" y1="294.6" x2="695.7" y2="307.0"/>
<line x1="687.7" y1="294.6" x2="700.1" y2="307.0"/>
<line x1="692.1" y1="294.6" x2="704.5" y2="307.0"/>
<line x1="696.5" y1="294.6" x2="708.9" y2="307.0"/>
</g>
<rect x="643.4" y="294.6" width="39.8" height="12.4" rx="1.6" fill="none" stroke="#231f20" stroke-width="1.20"/>
<clipPath id="hc5"><rect x="641.0" y="308.4" width="39.6" height="11.6" rx="1.6"/></clipPath>
<rect x="641.0" y="308.4" width="39.6" height="11.6" rx="1.6" fill="#8ed8f8"/>
<g clip-path="url(#hc5)" stroke="#231f20" stroke-width="1.10">
<line x1="625.8" y1="320.0" x2="637.4" y2="308.4"/>
<line x1="630.2" y1="320.0" x2="641.8" y2="308.4"/>
<line x1="634.6" y1="320.0" x2="646.2" y2="308.4"/>
<line x1="639.0" y1="320.0" x2="650.6" y2="308.4"/>
<line x1="643.4" y1="320.0" x2="655.0" y2="308.4"/>
<line x1="647.8" y1="320.0" x2="659.4" y2="308.4"/>
<line x1="652.2" y1="320.0" x2="663.8" y2="308.4"/>
<line x1="656.6" y1="320.0" x2="668.2" y2="308.4"/>
<line x1="661.0" y1="320.0" x2="672.6" y2="308.4"/>
<line x1="665.4" y1="320.0" x2="677.0" y2="308.4"/>
<line x1="669.8" y1="320.0" x2="681.4" y2="308.4"/>
<line x1="674.2" y1="320.0" x2="685.8" y2="308.4"/>
<line x1="678.6" y1="320.0" x2="690.2" y2="308.4"/>
<line x1="683.0" y1="320.0" x2="694.6" y2="308.4"/>
<line x1="687.4" y1="320.0" x2="699.0" y2="308.4"/>
<line x1="691.8" y1="320.0" x2="703.4" y2="308.4"/>
<line x1="696.2" y1="320.0" x2="707.8" y2="308.4"/>
</g>
<rect x="641.0" y="308.4" width="39.6" height="11.6" rx="1.6" fill="none" stroke="#231f20" stroke-width="1.20"/>
<clipPath id="hc6"><rect x="643.4" y="321.4" width="39.8" height="12.4" rx="1.6"/></clipPath>
<rect x="643.4" y="321.4" width="39.8" height="12.4" rx="1.6" fill="#8ed8f8"/>
<g clip-path="url(#hc6)" stroke="#231f20" stroke-width="1.10">
<line x1="628.7" y1="321.4" x2="641.1" y2="333.8"/>
<line x1="633.1" y1="321.4" x2="645.5" y2="333.8"/>
<line x1="637.5" y1="321.4" x2="649.9" y2="333.8"/>
<line x1="641.9" y1="321.4" x2="654.3" y2="333.8"/>
<line x1="646.3" y1="321.4" x2="658.7" y2="333.8"/>
<line x1="650.7" y1="321.4" x2="663.1" y2="333.8"/>
<line x1="655.1" y1="321.4" x2="667.5" y2="333.8"/>
<line x1="659.5" y1="321.4" x2="671.9" y2="333.8"/>
<line x1="663.9" y1="321.4" x2="676.3" y2="333.8"/>
<line x1="668.3" y1="321.4" x2="680.7" y2="333.8"/>
<line x1="672.7" y1="321.4" x2="685.1" y2="333.8"/>
<line x1="677.1" y1="321.4" x2="689.5" y2="333.8"/>
<line x1="681.5" y1="321.4" x2="693.9" y2="333.8"/>
<line x1="685.9" y1="321.4" x2="698.3" y2="333.8"/>
<line x1="690.3" y1="321.4" x2="702.7" y2="333.8"/>
<line x1="694.7" y1="321.4" x2="707.1" y2="333.8"/>
<line x1="699.1" y1="321.4" x2="711.5" y2="333.8"/>
</g>
<rect x="643.4" y="321.4" width="39.8" height="12.4" rx="1.6" fill="none" stroke="#231f20" stroke-width="1.20"/>
<clipPath id="hc7"><rect x="641.0" y="335.1" width="39.6" height="10.3" rx="1.6"/></clipPath>
<rect x="641.0" y="335.1" width="39.6" height="10.3" rx="1.6" fill="#8ed8f8"/>
<g clip-path="url(#hc7)" stroke="#231f20" stroke-width="1.10">
<line x1="629.7" y1="345.4" x2="640.0" y2="335.1"/>
<line x1="634.1" y1="345.4" x2="644.4" y2="335.1"/>
<line x1="638.5" y1="345.4" x2="648.8" y2="335.1"/>
<line x1="642.9" y1="345.4" x2="653.2" y2="335.1"/>
<line x1="647.3" y1="345.4" x2="657.6" y2="335.1"/>
<line x1="651.7" y1="345.4" x2="662.0" y2="335.1"/>
<line x1="656.1" y1="345.4" x2="666.4" y2="335.1"/>
<line x1="660.5" y1="345.4" x2="670.8" y2="335.1"/>
<line x1="664.9" y1="345.4" x2="675.2" y2="335.1"/>
<line x1="669.3" y1="345.4" x2="679.6" y2="335.1"/>
<line x1="673.7" y1="345.4" x2="684.0" y2="335.1"/>
<line x1="678.1" y1="345.4" x2="688.4" y2="335.1"/>
<line x1="682.5" y1="345.4" x2="692.8" y2="335.1"/>
<line x1="686.9" y1="345.4" x2="697.2" y2="335.1"/>
<line x1="691.3" y1="345.4" x2="701.6" y2="335.1"/>
</g>
<rect x="641.0" y="335.1" width="39.6" height="10.3" rx="1.6" fill="none" stroke="#231f20" stroke-width="1.20"/>
<clipPath id="hc8"><rect x="643.4" y="346.8" width="39.8" height="12.3" rx="1.6"/></clipPath>
<rect x="643.4" y="346.8" width="39.8" height="12.3" rx="1.6" fill="#8ed8f8"/>
<g clip-path="url(#hc8)" stroke="#231f20" stroke-width="1.10">
<line x1="627.0" y1="346.8" x2="639.3" y2="359.1"/>
<line x1="631.4" y1="346.8" x2="643.7" y2="359.1"/>
<line x1="635.8" y1="346.8" x2="648.1" y2="359.1"/>
<line x1="640.2" y1="346.8" x2="652.5" y2="359.1"/>
<line x1="644.6" y1="346.8" x2="656.9" y2="359.1"/>
<line x1="649.0" y1="346.8" x2="661.3" y2="359.1"/>
<line x1="653.4" y1="346.8" x2="665.7" y2="359.1"/>
<line x1="657.8" y1="346.8" x2="670.1" y2="359.1"/>
<line x1="662.2" y1="346.8" x2="674.5" y2="359.1"/>
<line x1="666.6" y1="346.8" x2="678.9" y2="359.1"/>
<line x1="671.0" y1="346.8" x2="683.3" y2="359.1"/>
<line x1="675.4" y1="346.8" x2="687.7" y2="359.1"/>
<line x1="679.8" y1="346.8" x2="692.1" y2="359.1"/>
<line x1="684.2" y1="346.8" x2="696.5" y2="359.1"/>
<line x1="688.6" y1="346.8" x2="700.9" y2="359.1"/>
<line x1="693.0" y1="346.8" x2="705.3" y2="359.1"/>
<line x1="697.4" y1="346.8" x2="709.7" y2="359.1"/>
</g>
<rect x="643.4" y="346.8" width="39.8" height="12.3" rx="1.6" fill="none" stroke="#231f20" stroke-width="1.20"/>
<clipPath id="hc9"><rect x="641.0" y="359.8" width="39.6" height="10.6" rx="1.6"/></clipPath>
<rect x="641.0" y="359.8" width="39.6" height="10.6" rx="1.6" fill="#8ed8f8"/>
<g clip-path="url(#hc9)" stroke="#231f20" stroke-width="1.10">
<line x1="627.6" y1="370.4" x2="638.2" y2="359.8"/>
<line x1="632.0" y1="370.4" x2="642.6" y2="359.8"/>
<line x1="636.4" y1="370.4" x2="647.0" y2="359.8"/>
<line x1="640.8" y1="370.4" x2="651.4" y2="359.8"/>
<line x1="645.2" y1="370.4" x2="655.8" y2="359.8"/>
<line x1="649.6" y1="370.4" x2="660.2" y2="359.8"/>
<line x1="654.0" y1="370.4" x2="664.6" y2="359.8"/>
<line x1="658.4" y1="370.4" x2="669.0" y2="359.8"/>
<line x1="662.8" y1="370.4" x2="673.4" y2="359.8"/>
<line x1="667.2" y1="370.4" x2="677.8" y2="359.8"/>
<line x1="671.6" y1="370.4" x2="682.2" y2="359.8"/>
<line x1="676.0" y1="370.4" x2="686.6" y2="359.8"/>
<line x1="680.4" y1="370.4" x2="691.0" y2="359.8"/>
<line x1="684.8" y1="370.4" x2="695.4" y2="359.8"/>
<line x1="689.2" y1="370.4" x2="699.8" y2="359.8"/>
<line x1="693.6" y1="370.4" x2="704.2" y2="359.8"/>
</g>
<rect x="641.0" y="359.8" width="39.6" height="10.6" rx="1.6" fill="none" stroke="#231f20" stroke-width="1.20"/>
<rect x="656.6" y="260" width="14.4" height="108.6" fill="#8ed8f8" stroke="#231f20" stroke-width="1.1"/>
<line x1="457.6" y1="195.0" x2="457.6" y2="219.0" stroke="#231f20" stroke-width="0.90"/>
<line x1="457.6" y1="260.0" x2="457.6" y2="267.5" stroke="#231f20" stroke-width="0.90"/>
<line x1="457.6" y1="271.5" x2="457.6" y2="281.5" stroke="#231f20" stroke-width="0.90"/>
<line x1="457.6" y1="325.5" x2="457.6" y2="433.3" stroke="#231f20" stroke-width="0.90"/>
<line x1="508.8" y1="195.0" x2="508.8" y2="219.0" stroke="#231f20" stroke-width="0.90"/>
<line x1="508.8" y1="260.0" x2="508.8" y2="267.5" stroke="#231f20" stroke-width="0.90"/>
<line x1="508.8" y1="271.5" x2="508.8" y2="281.5" stroke="#231f20" stroke-width="0.90"/>
<line x1="508.8" y1="325.5" x2="508.8" y2="433.3" stroke="#231f20" stroke-width="0.90"/>
<line x1="560.0" y1="195.0" x2="560.0" y2="219.0" stroke="#231f20" stroke-width="0.90"/>
<line x1="560.0" y1="260.0" x2="560.0" y2="267.5" stroke="#231f20" stroke-width="0.90"/>
<line x1="560.0" y1="271.5" x2="560.0" y2="281.5" stroke="#231f20" stroke-width="0.90"/>
<line x1="560.0" y1="325.5" x2="560.0" y2="433.3" stroke="#231f20" stroke-width="0.90"/>
<line x1="611.2" y1="195.0" x2="611.2" y2="219.0" stroke="#231f20" stroke-width="0.90"/>
<line x1="611.2" y1="260.0" x2="611.2" y2="267.5" stroke="#231f20" stroke-width="0.90"/>
<line x1="611.2" y1="271.5" x2="611.2" y2="281.5" stroke="#231f20" stroke-width="0.90"/>
<line x1="611.2" y1="325.5" x2="611.2" y2="433.3" stroke="#231f20" stroke-width="0.90"/>
<line x1="662.4" y1="195.0" x2="662.4" y2="219.0" stroke="#231f20" stroke-width="0.90"/>
<line x1="662.4" y1="260.0" x2="662.4" y2="267.5" stroke="#231f20" stroke-width="0.90"/>
<line x1="662.4" y1="271.5" x2="662.4" y2="281.5" stroke="#231f20" stroke-width="0.90"/>
<line x1="662.4" y1="325.5" x2="662.4" y2="433.3" stroke="#231f20" stroke-width="0.90"/>
<line x1="713.1" y1="261.3" x2="713.1" y2="367.8" stroke="#231f20" stroke-width="0.80" stroke-dasharray="34 5 28 5 34"/>
<line x1="431.7" y1="314.2" x2="738.8" y2="314.2" stroke="#231f20" stroke-width="0.90" stroke-dasharray="44 5 10 5"/>
<line x1="381.0" y1="203.1" x2="443.0" y2="203.1" stroke="#231f20" stroke-width="0.95"/>
<line x1="381.0" y1="425.2" x2="443.0" y2="425.2" stroke="#231f20" stroke-width="0.95"/>
<line x1="381.8" y1="203.1" x2="381.8" y2="425.2" stroke="#231f20" stroke-width="0.95"/>
<polygon points="381.8,203.1 380.6,208.9 383.0,208.9" fill="#231f20"/>
<polygon points="381.8,425.2 380.6,419.4 383.0,419.4" fill="#231f20"/>
<text x="380.8" y="313.0" font-size="16.0" text-anchor="middle" fill="#231f20" textLength="28.5" lengthAdjust="spacingAndGlyphs" transform="rotate(-90 380.8 313.0)">82.6</text>
<line x1="411.0" y1="257.6" x2="437.0" y2="257.6" stroke="#231f20" stroke-width="0.95"/>
<line x1="411.0" y1="370.4" x2="437.0" y2="370.4" stroke="#231f20" stroke-width="0.95"/>
<line x1="412.0" y1="258.0" x2="412.0" y2="370.4" stroke="#231f20" stroke-width="0.95"/>
<polygon points="412.0,257.6 410.8,263.4 413.2,263.4" fill="#231f20"/>
<polygon points="412.0,370.4 410.8,364.6 413.2,364.6" fill="#231f20"/>
<text x="410.4" y="312.5" font-size="16.0" text-anchor="middle" fill="#231f20" textLength="16.3" lengthAdjust="spacingAndGlyphs" transform="rotate(-90 410.4 312.5)">42</text>
<line x1="512.0" y1="456.2" x2="541.0" y2="456.2" stroke="#231f20" stroke-width="0.90"/>
<polygon points="502.6,456.2 519,453.4 519,459" fill="#231f20"/>
<polygon points="538.6,456.4 543.2,449.8 562.6,449.8 558.0,456.4" fill="#fff" stroke="#231f20" stroke-width="0.9"/>
<line x1="542.5" y1="456.4" x2="547.1" y2="449.8" stroke="#231f20" stroke-width="1.5"/>
<line x1="546.4" y1="456.4" x2="551.0" y2="449.8" stroke="#231f20" stroke-width="1.5"/>
<line x1="550.3" y1="456.4" x2="554.9" y2="449.8" stroke="#231f20" stroke-width="1.5"/>
<line x1="554.2" y1="456.4" x2="558.8" y2="449.8" stroke="#231f20" stroke-width="1.5"/>
<text x="572.1" y="457.7" font-size="15.2" text-anchor="start" fill="#231f20">Direction of travel</text>
<defs><pattern id="hw" width="4.6" height="4.6" patternUnits="userSpaceOnUse" patternTransform="rotate(45)"><rect width="4.6" height="4.6" fill="#8ed8f8"/><line x1="0" y1="0" x2="0" y2="4.6" stroke="#231f20" stroke-width="1.3"/></pattern></defs>
<path d="M841.2,203 L848.5,203 Q850.8,203 850.8,205.5 L850.8,421.5 Q850.8,424 848.5,424 L841.2,424 Z" fill="#8ed8f8" stroke="#231f20" stroke-width="0.9"/>
<line x1="848.2" y1="204.0" x2="848.2" y2="423.0" stroke="#231f20" stroke-width="0.70"/>
<clipPath id="hc10"><rect x="818.4" y="201.3" width="22.6" height="53.7" rx="0.0"/></clipPath>
<rect x="818.4" y="201.3" width="22.6" height="53.7" rx="0.0" fill="#8ed8f8"/>
<g clip-path="url(#hc10)" stroke="#231f20" stroke-width="0.95">
<line x1="758.7" y1="255.0" x2="812.4" y2="201.3"/>
<line x1="764.7" y1="255.0" x2="818.4" y2="201.3"/>
<line x1="770.7" y1="255.0" x2="824.4" y2="201.3"/>
<line x1="776.7" y1="255.0" x2="830.4" y2="201.3"/>
<line x1="782.7" y1="255.0" x2="836.4" y2="201.3"/>
<line x1="788.7" y1="255.0" x2="842.4" y2="201.3"/>
<line x1="794.7" y1="255.0" x2="848.4" y2="201.3"/>
<line x1="800.7" y1="255.0" x2="854.4" y2="201.3"/>
<line x1="806.7" y1="255.0" x2="860.4" y2="201.3"/>
<line x1="812.7" y1="255.0" x2="866.4" y2="201.3"/>
<line x1="818.7" y1="255.0" x2="872.4" y2="201.3"/>
<line x1="824.7" y1="255.0" x2="878.4" y2="201.3"/>
<line x1="830.7" y1="255.0" x2="884.4" y2="201.3"/>
<line x1="836.7" y1="255.0" x2="890.4" y2="201.3"/>
<line x1="842.7" y1="255.0" x2="896.4" y2="201.3"/>
<line x1="848.7" y1="255.0" x2="902.4" y2="201.3"/>
<line x1="854.7" y1="255.0" x2="908.4" y2="201.3"/>
<line x1="860.7" y1="255.0" x2="914.4" y2="201.3"/>
<line x1="866.7" y1="255.0" x2="920.4" y2="201.3"/>
<line x1="872.7" y1="255.0" x2="926.4" y2="201.3"/>
<line x1="878.7" y1="255.0" x2="932.4" y2="201.3"/>
<line x1="884.7" y1="255.0" x2="938.4" y2="201.3"/>
<line x1="890.7" y1="255.0" x2="944.4" y2="201.3"/>
<line x1="896.7" y1="255.0" x2="950.4" y2="201.3"/>
</g>
<rect x="818.4" y="201.3" width="22.6" height="53.7" rx="0.0" fill="none" stroke="#231f20" stroke-width="1.00"/>
<clipPath id="hc11"><rect x="818.4" y="373.6" width="22.6" height="54.0" rx="0.0"/></clipPath>
<rect x="818.4" y="373.6" width="22.6" height="54.0" rx="0.0" fill="#8ed8f8"/>
<g clip-path="url(#hc11)" stroke="#231f20" stroke-width="0.95">
<line x1="760.4" y1="427.6" x2="814.4" y2="373.6"/>
<line x1="766.4" y1="427.6" x2="820.4" y2="373.6"/>
<line x1="772.4" y1="427.6" x2="826.4" y2="373.6"/>
<line x1="778.4" y1="427.6" x2="832.4" y2="373.6"/>
<line x1="784.4" y1="427.6" x2="838.4" y2="373.6"/>
<line x1="790.4" y1="427.6" x2="844.4" y2="373.6"/>
<line x1="796.4" y1="427.6" x2="850.4" y2="373.6"/>
<line x1="802.4" y1="427.6" x2="856.4" y2="373.6"/>
<line x1="808.4" y1="427.6" x2="862.4" y2="373.6"/>
<line x1="814.4" y1="427.6" x2="868.4" y2="373.6"/>
<line x1="820.4" y1="427.6" x2="874.4" y2="373.6"/>
<line x1="826.4" y1="427.6" x2="880.4" y2="373.6"/>
<line x1="832.4" y1="427.6" x2="886.4" y2="373.6"/>
<line x1="838.4" y1="427.6" x2="892.4" y2="373.6"/>
<line x1="844.4" y1="427.6" x2="898.4" y2="373.6"/>
<line x1="850.4" y1="427.6" x2="904.4" y2="373.6"/>
<line x1="856.4" y1="427.6" x2="910.4" y2="373.6"/>
<line x1="862.4" y1="427.6" x2="916.4" y2="373.6"/>
<line x1="868.4" y1="427.6" x2="922.4" y2="373.6"/>
<line x1="874.4" y1="427.6" x2="928.4" y2="373.6"/>
<line x1="880.4" y1="427.6" x2="934.4" y2="373.6"/>
<line x1="886.4" y1="427.6" x2="940.4" y2="373.6"/>
<line x1="892.4" y1="427.6" x2="946.4" y2="373.6"/>
<line x1="898.4" y1="427.6" x2="952.4" y2="373.6"/>
</g>
<rect x="818.4" y="373.6" width="22.6" height="54.0" rx="0.0" fill="none" stroke="#231f20" stroke-width="1.00"/>
<path d="M787.2,258.2 L787.2,234.4 Q787.2,231.4 790.0,231.4 L794.5,231.4 Q796.0,231.4 797.0,237.4 L797.0,258.2 Z" fill="#8ed8f8" stroke="#231f20" stroke-width="0.9"/>
<path d="M790.0,258.8 L841.0,258.8 Q841.0,258.8 841.0,258.8 L841.0,268.4 Q841.0,268.4 841.0,268.4 L790.0,268.4 Q788.0,268.4 788.0,266.4 L788.0,260.8 Q788.0,258.8 790.0,258.8 Z" fill="#8ed8f8" stroke="#231f20" stroke-width="0.90"/>
<line x1="820.2" y1="258.8" x2="820.2" y2="268.4" stroke="#231f20" stroke-width="0.80"/>
<line x1="826.6" y1="258.8" x2="826.6" y2="268.4" stroke="#231f20" stroke-width="0.80"/>
<path d="M787.2,370.2 L787.2,394.0 Q787.2,397.0 790.0,397.0 L794.5,397.0 Q796.0,397.0 797.0,391.0 L797.0,370.2 Z" fill="#8ed8f8" stroke="#231f20" stroke-width="0.9"/>
<path d="M790.0,360.0 L841.0,360.0 Q841.0,360.0 841.0,360.0 L841.0,369.6 Q841.0,369.6 841.0,369.6 L790.0,369.6 Q788.0,369.6 788.0,367.6 L788.0,362.0 Q788.0,360.0 790.0,360.0 Z" fill="#8ed8f8" stroke="#231f20" stroke-width="0.90"/>
<line x1="820.2" y1="360.0" x2="820.2" y2="369.6" stroke="#231f20" stroke-width="0.80"/>
<line x1="826.6" y1="360.0" x2="826.6" y2="369.6" stroke="#231f20" stroke-width="0.80"/>
<rect x="797.2" y="269.2" width="53.2" height="90.0" fill="#8ed8f8"/>
<rect x="797.2" y="269.3" width="53.2" height="12.3" fill="#8ed8f8" stroke="#231f20" stroke-width="0.9"/>
<rect x="797.2" y="283.0" width="53.2" height="10.3" fill="#8ed8f8" stroke="#231f20" stroke-width="0.9"/>
<line x1="820.2" y1="283.0" x2="820.2" y2="293.3" stroke="#231f20" stroke-width="0.80"/>
<line x1="826.6" y1="283.0" x2="826.6" y2="293.3" stroke="#231f20" stroke-width="0.80"/>
<line x1="840.5" y1="283.0" x2="840.5" y2="293.3" stroke="#231f20" stroke-width="0.80"/>
<line x1="843.0" y1="283.0" x2="843.0" y2="293.3" stroke="#231f20" stroke-width="0.80"/>
<rect x="797.2" y="294.6" width="53.2" height="12.4" fill="#8ed8f8" stroke="#231f20" stroke-width="0.9"/>
<rect x="797.2" y="308.4" width="53.2" height="11.6" fill="#8ed8f8" stroke="#231f20" stroke-width="0.9"/>
<line x1="820.2" y1="308.4" x2="820.2" y2="320.0" stroke="#231f20" stroke-width="0.80"/>
<line x1="826.6" y1="308.4" x2="826.6" y2="320.0" stroke="#231f20" stroke-width="0.80"/>
<line x1="840.5" y1="308.4" x2="840.5" y2="320.0" stroke="#231f20" stroke-width="0.80"/>
<line x1="843.0" y1="308.4" x2="843.0" y2="320.0" stroke="#231f20" stroke-width="0.80"/>
<rect x="797.2" y="321.4" width="53.2" height="12.4" fill="#8ed8f8" stroke="#231f20" stroke-width="0.9"/>
<rect x="797.2" y="335.1" width="53.2" height="10.3" fill="#8ed8f8" stroke="#231f20" stroke-width="0.9"/>
<line x1="820.2" y1="335.1" x2="820.2" y2="345.4" stroke="#231f20" stroke-width="0.80"/>
<line x1="826.6" y1="335.1" x2="826.6" y2="345.4" stroke="#231f20" stroke-width="0.80"/>
<line x1="840.5" y1="335.1" x2="840.5" y2="345.4" stroke="#231f20" stroke-width="0.80"/>
<line x1="843.0" y1="335.1" x2="843.0" y2="345.4" stroke="#231f20" stroke-width="0.80"/>
<rect x="797.2" y="346.8" width="53.2" height="12.3" fill="#8ed8f8" stroke="#231f20" stroke-width="0.9"/>
<line x1="830.2" y1="262.0" x2="830.2" y2="375.0" stroke="#231f20" stroke-width="0.80" stroke-dasharray="26 4 12 4"/>
<line x1="788.7" y1="314.2" x2="860.0" y2="314.2" stroke="#231f20" stroke-width="0.80" stroke-dasharray="40 5 6 5"/>
<line x1="765.0" y1="231.4" x2="787.0" y2="231.4" stroke="#231f20" stroke-width="0.95"/>
<line x1="765.0" y1="397.0" x2="787.0" y2="397.0" stroke="#231f20" stroke-width="0.95"/>
<line x1="766.0" y1="231.4" x2="766.0" y2="397.0" stroke="#231f20" stroke-width="0.95"/>
<polygon points="766.0,231.4 764.8,237.2 767.2,237.2" fill="#231f20"/>
<polygon points="766.0,397.0 764.8,391.2 767.2,391.2" fill="#231f20"/>
<text x="765.0" y="312.0" font-size="16.0" text-anchor="middle" fill="#231f20" textLength="16.3" lengthAdjust="spacingAndGlyphs" transform="rotate(-90 765.0 312.0)">62</text>
<line x1="797.2" y1="171.0" x2="797.2" y2="257.7" stroke="#231f20" stroke-width="0.95"/>
<line x1="841.2" y1="171.0" x2="841.2" y2="203.0" stroke="#231f20" stroke-width="0.95"/>
<line x1="797.2" y1="176.3" x2="841.2" y2="176.3" stroke="#231f20" stroke-width="0.95"/>
<polygon points="797.2,176.3 803.0,175.1 803.0,177.5" fill="#231f20"/>
<polygon points="841.2,176.3 835.4,175.1 835.4,177.5" fill="#231f20"/>
<text x="820.5" y="173.6" font-size="16.0" text-anchor="middle" fill="#231f20" textLength="16.3" lengthAdjust="spacingAndGlyphs">16</text>
<text x="706.0" y="183.0" font-size="15.0" text-anchor="start" fill="#231f20">Wearstrip</text>
<line x1="702.7" y1="185.8" x2="773.3" y2="185.8" stroke="#231f20" stroke-width="0.95"/>
<line x1="773.3" y1="185.8" x2="818.4" y2="227.9" stroke="#231f20" stroke-width="0.95"/>
<polygon points="818.4,227.9 812.8,224.4 814.8,222.3" fill="#231f20"/>
<text x="739.8" y="461.2" font-size="14.4" textLength="107" lengthAdjust="spacingAndGlyphs" fill="#231f20">Dimensions in mm</text>
<defs><filter id="bl" x="-5%" y="-5%" width="110%" height="110%"><feGaussianBlur stdDeviation="0.75"/></filter><filter id="bl2" x="-20%" y="-20%" width="140%" height="140%"><feGaussianBlur stdDeviation="1.6"/></filter><linearGradient id="gTop" gradientUnits="userSpaceOnUse" x1="60" y1="40" x2="260" y2="200"><stop offset="0" stop-color="#a0a1a5"/><stop offset="0.5" stop-color="#9a9b9f"/><stop offset="1" stop-color="#96979b"/></linearGradient></defs>
<g filter="url(#bl)">
<polygon points="37.0,144.0 45.0,139.0 53.0,150.0 56.0,166.0 51.0,169.0 41.0,161.0 36.0,151.0" fill="#8a8b8f" />
<polyline points="146.0,204.0 160.5,211.6" fill="none" stroke="#505155" stroke-width="10.5" stroke-linecap="round" stroke-linejoin="round" />
<polyline points="147.0,201.5 160.0,208.0" fill="none" stroke="#707175" stroke-width="3.4" stroke-linecap="round" stroke-linejoin="round" />
<polyline points="182.0,187.5 196.5,195.1" fill="none" stroke="#505155" stroke-width="10.5" stroke-linecap="round" stroke-linejoin="round" />
<polyline points="183.0,185.0 196.0,191.5" fill="none" stroke="#707175" stroke-width="3.4" stroke-linecap="round" stroke-linejoin="round" />
<polyline points="218.5,171.0 233.0,178.6" fill="none" stroke="#505155" stroke-width="10.5" stroke-linecap="round" stroke-linejoin="round" />
<polyline points="219.5,168.5 232.5,175.0" fill="none" stroke="#707175" stroke-width="3.4" stroke-linecap="round" stroke-linejoin="round" />
<polyline points="253.5,153.5 268.0,161.1" fill="none" stroke="#505155" stroke-width="10.5" stroke-linecap="round" stroke-linejoin="round" />
<polyline points="254.5,151.0 267.5,157.5" fill="none" stroke="#707175" stroke-width="3.4" stroke-linecap="round" stroke-linejoin="round" />
<polygon points="230.0,44.0 244.0,42.0 258.0,45.0 272.0,56.0 287.0,70.0 301.0,85.0 305.0,94.0 302.0,102.0 296.0,106.0 285.0,100.0" fill="#6f7074" />
<polyline points="238.2,55.6 253.3,49.0" fill="none" stroke="#9a9b9f" stroke-width="9.5" stroke-linecap="round" stroke-linejoin="round" />
<polyline points="237.5,53.4 251.7,47.2" fill="none" stroke="#a5a6aa" stroke-width="2.5" stroke-linecap="round" stroke-linejoin="round" opacity="0.6"/>
<polyline points="252.4,69.3 267.5,62.7" fill="none" stroke="#9a9b9f" stroke-width="9.5" stroke-linecap="round" stroke-linejoin="round" />
<polyline points="251.7,67.1 265.9,60.9" fill="none" stroke="#a5a6aa" stroke-width="2.5" stroke-linecap="round" stroke-linejoin="round" opacity="0.6"/>
<polyline points="266.6,83.0 281.7,76.4" fill="none" stroke="#9a9b9f" stroke-width="9.5" stroke-linecap="round" stroke-linejoin="round" />
<polyline points="265.9,80.8 280.1,74.6" fill="none" stroke="#a5a6aa" stroke-width="2.5" stroke-linecap="round" stroke-linejoin="round" opacity="0.6"/>
<polyline points="280.8,96.7 295.9,90.1" fill="none" stroke="#9a9b9f" stroke-width="9.5" stroke-linecap="round" stroke-linejoin="round" />
<polyline points="280.1,94.5 294.3,88.3" fill="none" stroke="#a5a6aa" stroke-width="2.5" stroke-linecap="round" stroke-linejoin="round" opacity="0.6"/>
<polyline points="242.2,59.5 254.1,54.3" fill="none" stroke="#454548" stroke-width="3.2" stroke-linecap="round" stroke-linejoin="round" />
<polyline points="256.4,73.2 268.3,68.0" fill="none" stroke="#454548" stroke-width="3.2" stroke-linecap="round" stroke-linejoin="round" />
<polyline points="270.6,86.9 282.5,81.7" fill="none" stroke="#454548" stroke-width="3.2" stroke-linecap="round" stroke-linejoin="round" />
<polyline points="284.8,100.6 296.7,95.4" fill="none" stroke="#454548" stroke-width="3.2" stroke-linecap="round" stroke-linejoin="round" />
<polygon points="129.0,211.0 165.1,196.4 165.1,200.9 129.0,215.5" fill="#8a8b8f" />
<polyline points="129.5,215.5 165.1,200.9" fill="none" stroke="#77787c" stroke-width="1.0" stroke-linecap="round" stroke-linejoin="round" />
<polygon points="165.8,190.8 201.9,178.8 201.9,183.3 165.8,195.3" fill="#8a8b8f" />
<polyline points="166.3,195.3 201.9,183.3" fill="none" stroke="#77787c" stroke-width="1.0" stroke-linecap="round" stroke-linejoin="round" />
<polygon points="202.6,173.2 238.7,161.2 238.7,165.7 202.6,177.7" fill="#8a8b8f" />
<polyline points="203.1,177.7 238.7,165.7" fill="none" stroke="#77787c" stroke-width="1.0" stroke-linecap="round" stroke-linejoin="round" />
<polygon points="239.4,155.6 275.5,143.6 275.5,148.1 239.4,160.1" fill="#8a8b8f" />
<polyline points="239.9,160.1 275.5,148.1" fill="none" stroke="#77787c" stroke-width="1.0" stroke-linecap="round" stroke-linejoin="round" />
<polygon points="276.2,138.0 312.3,123.4 312.3,127.9 276.2,142.5" fill="#8a8b8f" />
<polyline points="276.7,142.5 312.3,127.9" fill="none" stroke="#77787c" stroke-width="1.0" stroke-linecap="round" stroke-linejoin="round" />
<polygon points="19.0,101.0 129.0,211.0 129.0,217.0 126.0,216.0 17.0,105.0 17.0,103.0" fill="#85868a" />
<polygon points="19.9,100.6 54.7,85.5 56.7,84.6 91.5,69.5 93.5,68.6 128.3,53.5 130.3,52.6 165.1,37.5 167.1,36.6 201.9,21.5 203.0,21.0 312.3,123.4 276.2,138.0 275.5,143.6 239.4,155.6 238.7,161.2 202.6,173.2 201.9,178.8 165.8,190.8 165.1,196.4 129.0,211.0" fill="url(#gTop)" />
<polygon points="21.8,99.8 32.8,95.0 142.8,204.4 131.8,209.7" fill="#a9aaae" opacity="0.45"/>
<polygon points="46.6,89.0 54.3,85.6 164.3,194.1 156.6,197.8" fill="#8a8b8f" opacity="0.45"/>
<polygon points="58.6,83.8 69.6,79.0 179.6,186.8 168.6,192.1" fill="#a9aaae" opacity="0.45"/>
<polygon points="83.4,73.0 91.1,69.6 201.1,176.5 193.4,180.2" fill="#8a8b8f" opacity="0.45"/>
<polygon points="95.4,67.8 106.4,63.0 216.4,169.2 205.4,174.5" fill="#a9aaae" opacity="0.45"/>
<polygon points="120.2,57.0 127.9,53.6 237.9,158.9 230.2,162.6" fill="#8a8b8f" opacity="0.45"/>
<polygon points="132.2,51.8 143.2,47.0 253.2,151.6 242.2,156.9" fill="#a9aaae" opacity="0.45"/>
<polygon points="157.0,41.0 164.7,37.6 274.7,141.3 267.0,145.0" fill="#8a8b8f" opacity="0.45"/>
<polygon points="169.0,35.8 180.0,31.0 290.0,134.0 279.0,139.3" fill="#a9aaae" opacity="0.45"/>
<polygon points="193.8,25.0 201.5,21.6 311.5,123.7 303.8,127.4" fill="#8a8b8f" opacity="0.45"/>
<polyline points="55.8,85.0 82.2,111.0" fill="none" stroke="#66676b" stroke-width="1.7" stroke-linecap="round" stroke-linejoin="round" />
<polyline points="132.8,160.9 165.8,193.4" fill="none" stroke="#66676b" stroke-width="1.7" stroke-linecap="round" stroke-linejoin="round" />
<polyline points="82.2,111.0 132.8,160.9" fill="none" stroke="#7b7c80" stroke-width="1.2" stroke-linecap="round" stroke-linejoin="round" />
<polyline points="58.0,84.0 84.4,110.0" fill="none" stroke="#b0b1b5" stroke-width="1.3" stroke-linecap="round" stroke-linejoin="round" opacity="0.7"/>
<polyline points="135.0,159.9 168.0,192.3" fill="none" stroke="#b0b1b5" stroke-width="1.3" stroke-linecap="round" stroke-linejoin="round" opacity="0.7"/>
<polyline points="92.6,69.0 119.0,94.6" fill="none" stroke="#66676b" stroke-width="1.7" stroke-linecap="round" stroke-linejoin="round" />
<polyline points="169.6,143.8 202.6,175.8" fill="none" stroke="#66676b" stroke-width="1.7" stroke-linecap="round" stroke-linejoin="round" />
<polyline points="119.0,94.6 169.6,143.8" fill="none" stroke="#7b7c80" stroke-width="1.2" stroke-linecap="round" stroke-linejoin="round" />
<polyline points="94.8,68.0 121.2,93.6" fill="none" stroke="#b0b1b5" stroke-width="1.3" stroke-linecap="round" stroke-linejoin="round" opacity="0.7"/>
<polyline points="171.8,142.7 204.8,174.7" fill="none" stroke="#b0b1b5" stroke-width="1.3" stroke-linecap="round" stroke-linejoin="round" opacity="0.7"/>
<polyline points="129.4,53.0 155.8,78.2" fill="none" stroke="#66676b" stroke-width="1.7" stroke-linecap="round" stroke-linejoin="round" />
<polyline points="206.4,126.6 239.4,158.2" fill="none" stroke="#66676b" stroke-width="1.7" stroke-linecap="round" stroke-linejoin="round" />
<polyline points="155.8,78.2 206.4,126.6" fill="none" stroke="#7b7c80" stroke-width="1.2" stroke-linecap="round" stroke-linejoin="round" />
<polyline points="131.6,52.0 158.0,77.3" fill="none" stroke="#b0b1b5" stroke-width="1.3" stroke-linecap="round" stroke-linejoin="round" opacity="0.7"/>
<polyline points="208.6,125.6 241.6,157.1" fill="none" stroke="#b0b1b5" stroke-width="1.3" stroke-linecap="round" stroke-linejoin="round" opacity="0.7"/>
<polyline points="166.2,37.0 192.6,61.9" fill="none" stroke="#66676b" stroke-width="1.7" stroke-linecap="round" stroke-linejoin="round" />
<polyline points="243.2,109.5 276.2,140.6" fill="none" stroke="#66676b" stroke-width="1.7" stroke-linecap="round" stroke-linejoin="round" />
<polyline points="192.6,61.9 243.2,109.5" fill="none" stroke="#7b7c80" stroke-width="1.2" stroke-linecap="round" stroke-linejoin="round" />
<polyline points="168.4,36.0 194.8,60.9" fill="none" stroke="#b0b1b5" stroke-width="1.3" stroke-linecap="round" stroke-linejoin="round" opacity="0.7"/>
<polyline points="245.4,108.5 278.4,139.5" fill="none" stroke="#b0b1b5" stroke-width="1.3" stroke-linecap="round" stroke-linejoin="round" opacity="0.7"/>
<polygon points="94.9,110.3 103.7,106.9 109.8,112.4 101.0,116.0" fill="#a7a8ac" opacity="0.85"/>
<polyline points="94.3,110.4 103.5,106.8" fill="none" stroke="#505155" stroke-width="1.6" stroke-linecap="round" stroke-linejoin="round" />
<polyline points="103.5,106.7 109.9,112.4" fill="none" stroke="#3e3f43" stroke-width="2.7" stroke-linecap="round" stroke-linejoin="round" />
<polyline points="94.1,120.7 102.1,115.9" fill="none" stroke="#66676b" stroke-width="1.4" stroke-linecap="round" stroke-linejoin="round" opacity="0.85"/>
<polyline points="94.5,110.9 93.9,120.3" fill="none" stroke="#77787c" stroke-width="1.1" stroke-linecap="round" stroke-linejoin="round" opacity="0.7"/>
<polygon points="107.6,122.5 116.4,119.1 122.5,124.6 113.7,128.2" fill="#a7a8ac" opacity="0.85"/>
<polyline points="107.0,122.6 116.2,119.0" fill="none" stroke="#505155" stroke-width="1.6" stroke-linecap="round" stroke-linejoin="round" />
<polyline points="116.2,118.9 122.6,124.6" fill="none" stroke="#3e3f43" stroke-width="2.7" stroke-linecap="round" stroke-linejoin="round" />
<polyline points="106.8,132.9 114.8,128.1" fill="none" stroke="#66676b" stroke-width="1.4" stroke-linecap="round" stroke-linejoin="round" opacity="0.85"/>
<polyline points="107.2,123.1 106.6,132.5" fill="none" stroke="#77787c" stroke-width="1.1" stroke-linecap="round" stroke-linejoin="round" opacity="0.7"/>
<polygon points="120.2,134.6 129.0,131.2 135.1,136.7 126.3,140.3" fill="#a7a8ac" opacity="0.85"/>
<polyline points="119.6,134.7 128.8,131.1" fill="none" stroke="#505155" stroke-width="1.6" stroke-linecap="round" stroke-linejoin="round" />
<polyline points="128.8,131.0 135.2,136.7" fill="none" stroke="#3e3f43" stroke-width="2.7" stroke-linecap="round" stroke-linejoin="round" />
<polyline points="119.4,145.0 127.4,140.2" fill="none" stroke="#66676b" stroke-width="1.4" stroke-linecap="round" stroke-linejoin="round" opacity="0.85"/>
<polyline points="119.8,135.2 119.2,144.6" fill="none" stroke="#77787c" stroke-width="1.1" stroke-linecap="round" stroke-linejoin="round" opacity="0.7"/>
<polygon points="132.9,146.8 141.7,143.4 147.8,148.9 139.0,152.5" fill="#a7a8ac" opacity="0.85"/>
<polyline points="132.3,146.9 141.5,143.3" fill="none" stroke="#505155" stroke-width="1.6" stroke-linecap="round" stroke-linejoin="round" />
<polyline points="141.5,143.2 147.9,148.9" fill="none" stroke="#3e3f43" stroke-width="2.7" stroke-linecap="round" stroke-linejoin="round" />
<polyline points="132.1,157.2 140.1,152.4" fill="none" stroke="#66676b" stroke-width="1.4" stroke-linecap="round" stroke-linejoin="round" opacity="0.85"/>
<polyline points="132.5,147.4 131.9,156.8" fill="none" stroke="#77787c" stroke-width="1.1" stroke-linecap="round" stroke-linejoin="round" opacity="0.7"/>
<polygon points="132.9,94.2 141.7,90.8 147.8,96.3 139.0,99.9" fill="#a7a8ac" opacity="0.85"/>
<polyline points="132.3,94.3 141.5,90.7" fill="none" stroke="#505155" stroke-width="1.6" stroke-linecap="round" stroke-linejoin="round" />
<polyline points="141.5,90.6 147.9,96.3" fill="none" stroke="#3e3f43" stroke-width="2.7" stroke-linecap="round" stroke-linejoin="round" />
<polyline points="132.1,104.6 140.1,99.8" fill="none" stroke="#66676b" stroke-width="1.4" stroke-linecap="round" stroke-linejoin="round" opacity="0.85"/>
<polyline points="132.5,94.8 131.9,104.2" fill="none" stroke="#77787c" stroke-width="1.1" stroke-linecap="round" stroke-linejoin="round" opacity="0.7"/>
<polygon points="145.6,106.4 154.4,103.0 160.5,108.5 151.7,112.1" fill="#a7a8ac" opacity="0.85"/>
<polyline points="145.0,106.5 154.2,102.9" fill="none" stroke="#505155" stroke-width="1.6" stroke-linecap="round" stroke-linejoin="round" />
<polyline points="154.2,102.8 160.6,108.5" fill="none" stroke="#3e3f43" stroke-width="2.7" stroke-linecap="round" stroke-linejoin="round" />
<polyline points="144.8,116.8 152.8,112.0" fill="none" stroke="#66676b" stroke-width="1.4" stroke-linecap="round" stroke-linejoin="round" opacity="0.85"/>
<polyline points="145.2,107.0 144.6,116.4" fill="none" stroke="#77787c" stroke-width="1.1" stroke-linecap="round" stroke-linejoin="round" opacity="0.7"/>
<polygon points="158.2,118.6 167.0,115.2 173.1,120.7 164.3,124.3" fill="#a7a8ac" opacity="0.85"/>
<polyline points="157.6,118.7 166.8,115.1" fill="none" stroke="#505155" stroke-width="1.6" stroke-linecap="round" stroke-linejoin="round" />
<polyline points="166.8,115.0 173.2,120.7" fill="none" stroke="#3e3f43" stroke-width="2.7" stroke-linecap="round" stroke-linejoin="round" />
<polyline points="157.4,129.0 165.4,124.2" fill="none" stroke="#66676b" stroke-width="1.4" stroke-linecap="round" stroke-linejoin="round" opacity="0.85"/>
<polyline points="157.8,119.2 157.2,128.6" fill="none" stroke="#77787c" stroke-width="1.1" stroke-linecap="round" stroke-linejoin="round" opacity="0.7"/>
<polygon points="170.9,130.7 179.7,127.3 185.8,132.8 177.0,136.4" fill="#a7a8ac" opacity="0.85"/>
<polyline points="170.3,130.8 179.5,127.2" fill="none" stroke="#505155" stroke-width="1.6" stroke-linecap="round" stroke-linejoin="round" />
<polyline points="179.5,127.1 185.9,132.8" fill="none" stroke="#3e3f43" stroke-width="2.7" stroke-linecap="round" stroke-linejoin="round" />
<polyline points="170.1,141.1 178.1,136.3" fill="none" stroke="#66676b" stroke-width="1.4" stroke-linecap="round" stroke-linejoin="round" opacity="0.85"/>
<polyline points="170.5,131.3 169.9,140.7" fill="none" stroke="#77787c" stroke-width="1.1" stroke-linecap="round" stroke-linejoin="round" opacity="0.7"/>
<polygon points="170.9,78.2 179.7,74.8 185.8,80.3 177.0,83.9" fill="#a7a8ac" opacity="0.85"/>
<polyline points="170.3,78.3 179.5,74.7" fill="none" stroke="#505155" stroke-width="1.6" stroke-linecap="round" stroke-linejoin="round" />
<polyline points="179.5,74.6 185.9,80.3" fill="none" stroke="#3e3f43" stroke-width="2.7" stroke-linecap="round" stroke-linejoin="round" />
<polyline points="170.1,88.6 178.1,83.8" fill="none" stroke="#66676b" stroke-width="1.4" stroke-linecap="round" stroke-linejoin="round" opacity="0.85"/>
<polyline points="170.5,78.8 169.9,88.2" fill="none" stroke="#77787c" stroke-width="1.1" stroke-linecap="round" stroke-linejoin="round" opacity="0.7"/>
<polygon points="183.6,90.3 192.4,86.9 198.5,92.4 189.7,96.0" fill="#a7a8ac" opacity="0.85"/>
<polyline points="183.0,90.4 192.2,86.8" fill="none" stroke="#505155" stroke-width="1.6" stroke-linecap="round" stroke-linejoin="round" />
<polyline points="192.2,86.7 198.6,92.4" fill="none" stroke="#3e3f43" stroke-width="2.7" stroke-linecap="round" stroke-linejoin="round" />
<polyline points="182.8,100.7 190.8,95.9" fill="none" stroke="#66676b" stroke-width="1.4" stroke-linecap="round" stroke-linejoin="round" opacity="0.85"/>
<polyline points="183.2,90.9 182.6,100.3" fill="none" stroke="#77787c" stroke-width="1.1" stroke-linecap="round" stroke-linejoin="round" opacity="0.7"/>
<polygon points="196.2,102.5 205.0,99.1 211.1,104.6 202.3,108.2" fill="#a7a8ac" opacity="0.85"/>
<polyline points="195.6,102.6 204.8,99.0" fill="none" stroke="#505155" stroke-width="1.6" stroke-linecap="round" stroke-linejoin="round" />
<polyline points="204.8,98.9 211.2,104.6" fill="none" stroke="#3e3f43" stroke-width="2.7" stroke-linecap="round" stroke-linejoin="round" />
<polyline points="195.4,112.9 203.4,108.1" fill="none" stroke="#66676b" stroke-width="1.4" stroke-linecap="round" stroke-linejoin="round" opacity="0.85"/>
<polyline points="195.8,103.1 195.2,112.5" fill="none" stroke="#77787c" stroke-width="1.1" stroke-linecap="round" stroke-linejoin="round" opacity="0.7"/>
<polygon points="208.9,114.7 217.7,111.3 223.8,116.8 215.0,120.4" fill="#a7a8ac" opacity="0.85"/>
<polyline points="208.3,114.8 217.5,111.2" fill="none" stroke="#505155" stroke-width="1.6" stroke-linecap="round" stroke-linejoin="round" />
<polyline points="217.5,111.1 223.9,116.8" fill="none" stroke="#3e3f43" stroke-width="2.7" stroke-linecap="round" stroke-linejoin="round" />
<polyline points="208.1,125.1 216.1,120.3" fill="none" stroke="#66676b" stroke-width="1.4" stroke-linecap="round" stroke-linejoin="round" opacity="0.85"/>
<polyline points="208.5,115.3 207.9,124.7" fill="none" stroke="#77787c" stroke-width="1.1" stroke-linecap="round" stroke-linejoin="round" opacity="0.7"/>
<polygon points="208.9,62.1 217.7,58.7 223.8,64.2 215.0,67.8" fill="#a7a8ac" opacity="0.85"/>
<polyline points="208.3,62.2 217.5,58.6" fill="none" stroke="#505155" stroke-width="1.6" stroke-linecap="round" stroke-linejoin="round" />
<polyline points="217.5,58.5 223.9,64.2" fill="none" stroke="#3e3f43" stroke-width="2.7" stroke-linecap="round" stroke-linejoin="round" />
<polyline points="208.1,72.5 216.1,67.7" fill="none" stroke="#66676b" stroke-width="1.4" stroke-linecap="round" stroke-linejoin="round" opacity="0.85"/>
<polyline points="208.5,62.7 207.9,72.1" fill="none" stroke="#77787c" stroke-width="1.1" stroke-linecap="round" stroke-linejoin="round" opacity="0.7"/>
<polygon points="221.6,74.3 230.4,70.9 236.5,76.4 227.7,80.0" fill="#a7a8ac" opacity="0.85"/>
<polyline points="221.0,74.4 230.2,70.8" fill="none" stroke="#505155" stroke-width="1.6" stroke-linecap="round" stroke-linejoin="round" />
<polyline points="230.2,70.7 236.6,76.4" fill="none" stroke="#3e3f43" stroke-width="2.7" stroke-linecap="round" stroke-linejoin="round" />
<polyline points="220.8,84.7 228.8,79.9" fill="none" stroke="#66676b" stroke-width="1.4" stroke-linecap="round" stroke-linejoin="round" opacity="0.85"/>
<polyline points="221.2,74.9 220.6,84.3" fill="none" stroke="#77787c" stroke-width="1.1" stroke-linecap="round" stroke-linejoin="round" opacity="0.7"/>
<polygon points="234.2,86.4 243.0,83.0 249.1,88.5 240.3,92.1" fill="#a7a8ac" opacity="0.85"/>
<polyline points="233.6,86.5 242.8,82.9" fill="none" stroke="#505155" stroke-width="1.6" stroke-linecap="round" stroke-linejoin="round" />
<polyline points="242.8,82.8 249.2,88.5" fill="none" stroke="#3e3f43" stroke-width="2.7" stroke-linecap="round" stroke-linejoin="round" />
<polyline points="233.4,96.8 241.4,92.0" fill="none" stroke="#66676b" stroke-width="1.4" stroke-linecap="round" stroke-linejoin="round" opacity="0.85"/>
<polyline points="233.8,87.0 233.2,96.4" fill="none" stroke="#77787c" stroke-width="1.1" stroke-linecap="round" stroke-linejoin="round" opacity="0.7"/>
<polygon points="246.9,98.6 255.7,95.2 261.8,100.7 253.0,104.3" fill="#a7a8ac" opacity="0.85"/>
<polyline points="246.3,98.7 255.5,95.1" fill="none" stroke="#505155" stroke-width="1.6" stroke-linecap="round" stroke-linejoin="round" />
<polyline points="255.5,95.0 261.9,100.7" fill="none" stroke="#3e3f43" stroke-width="2.7" stroke-linecap="round" stroke-linejoin="round" />
<polyline points="246.1,109.0 254.1,104.2" fill="none" stroke="#66676b" stroke-width="1.4" stroke-linecap="round" stroke-linejoin="round" opacity="0.85"/>
<polyline points="246.5,99.2 245.9,108.6" fill="none" stroke="#77787c" stroke-width="1.1" stroke-linecap="round" stroke-linejoin="round" opacity="0.7"/>
<polyline points="22.7,101.6 55.1,87.5" fill="none" stroke="#b1b2b6" stroke-width="1.6" stroke-linecap="round" stroke-linejoin="round" opacity="0.75"/>
<polyline points="59.5,85.6 91.9,71.5" fill="none" stroke="#b1b2b6" stroke-width="1.6" stroke-linecap="round" stroke-linejoin="round" opacity="0.75"/>
<polyline points="96.3,69.5 128.7,55.4" fill="none" stroke="#b1b2b6" stroke-width="1.6" stroke-linecap="round" stroke-linejoin="round" opacity="0.75"/>
<polyline points="133.1,53.5 165.5,39.4" fill="none" stroke="#b1b2b6" stroke-width="1.6" stroke-linecap="round" stroke-linejoin="round" opacity="0.75"/>
<polyline points="169.9,37.5 202.3,23.4" fill="none" stroke="#b1b2b6" stroke-width="1.6" stroke-linecap="round" stroke-linejoin="round" opacity="0.75"/>
<polyline points="289.5,103.3 310.4,122.7" fill="none" stroke="#b1b2b6" stroke-width="1.8" stroke-linecap="round" stroke-linejoin="round" opacity="0.7"/>
<polygon points="46.5,131.2 71.4,120.1 77.5,126.2 52.7,137.4" fill="#3f3f42" />
<polygon points="59.2,143.9 84.0,132.6 90.2,138.7 65.3,150.0" fill="#3f3f42" />
<polygon points="72.4,157.1 97.2,145.7 103.4,151.8 78.5,163.2" fill="#3f3f42" />
<polygon points="85.0,169.7 109.9,158.3 116.0,164.4 91.2,175.9" fill="#3f3f42" />
<polygon points="46.0,136.0 60.0,128.0 104.0,172.0 96.0,196.0 86.0,203.0 72.0,190.0 56.0,172.0 44.0,158.0" fill="#47474a" />
<polyline points="57.0,124.0 47.0,130.0 41.0,140.0 41.0,160.0" fill="none" stroke="#727377" stroke-width="10.5" stroke-linecap="round" stroke-linejoin="round" />
<polyline points="55.8,122.8 45.8,128.8 39.8,138.8" fill="none" stroke="#8d8e92" stroke-width="5.5" stroke-linecap="round" stroke-linejoin="round" />
<polyline points="71.0,136.0 60.0,143.0 54.0,152.0 55.0,173.0" fill="none" stroke="#727377" stroke-width="10.5" stroke-linecap="round" stroke-linejoin="round" />
<polyline points="69.8,134.8 58.8,141.8 52.8,150.8" fill="none" stroke="#8d8e92" stroke-width="5.5" stroke-linecap="round" stroke-linejoin="round" />
<polyline points="85.0,149.0 73.0,157.0 68.0,166.0 69.0,185.0" fill="none" stroke="#727377" stroke-width="10.5" stroke-linecap="round" stroke-linejoin="round" />
<polyline points="83.8,147.8 71.8,155.8 66.8,164.8" fill="none" stroke="#8d8e92" stroke-width="5.5" stroke-linecap="round" stroke-linejoin="round" />
<polyline points="97.0,161.0 86.0,170.0 81.0,178.0 84.0,196.0" fill="none" stroke="#727377" stroke-width="10.5" stroke-linecap="round" stroke-linejoin="round" />
<polyline points="95.8,159.8 84.8,168.8 79.8,176.8" fill="none" stroke="#8d8e92" stroke-width="5.5" stroke-linecap="round" stroke-linejoin="round" />
<polygon points="100.0,176.0 129.0,209.0 130.0,217.0 120.0,219.0 110.0,214.0 106.0,196.0" fill="#808185" />
<polygon points="93.0,181.0 112.0,170.0 116.0,176.0 106.0,184.0 111.0,200.0 112.0,213.0 125.0,222.0 127.0,228.0 119.0,233.0 108.0,231.0 100.0,223.0 96.0,205.0" fill="#77787c" />
<polygon points="97.0,184.0 103.0,181.0 107.0,200.0 108.0,215.0 102.0,218.0 99.0,204.0" fill="#8c8d91" />
<polygon points="108.0,222.0 121.0,226.0 118.0,231.0 108.0,229.0" fill="#6a6b6f" />
</g>
<defs><linearGradient id="gFlap" x1="0" y1="0" x2="0.6" y2="1"><stop offset="0" stop-color="#98999d"/><stop offset="0.5" stop-color="#8c8d91"/><stop offset="1" stop-color="#7e7f83"/></linearGradient><linearGradient id="gFace" x1="0" y1="0" x2="1" y2="1"><stop offset="0" stop-color="#9a9b9f"/><stop offset="1" stop-color="#7c7d81"/></linearGradient></defs>
<g filter="url(#bl)">
<polygon points="37.0,303.0 56.0,279.0 72.0,277.0 78.0,295.0 92.0,292.0 97.0,261.0 112.0,259.0 118.0,278.0 132.0,275.0 137.0,243.0 151.0,242.0 158.0,260.0 172.0,258.0 177.0,226.0 192.0,225.0 198.0,244.0 213.0,240.0 219.0,209.0 236.0,207.0 243.0,223.0 262.0,232.0 274.0,217.0 288.0,219.0 305.0,236.0 326.0,253.0 337.0,272.0 338.0,285.0 332.0,296.0 322.0,304.0 348.0,338.0 346.0,343.0 307.0,361.0 271.0,378.0 231.0,396.0 193.0,414.0 157.0,431.0 149.0,428.0 119.0,398.0 100.0,392.0 86.0,372.0 72.0,350.0 58.0,330.0 44.0,318.0" fill="#85868a" />
<polygon points="119.0,397.0 159.5,377.5 194.0,409.0 156.5,429.5" fill="url(#gFlap)" />
<polyline points="157.5,428.7 193.0,408.2" fill="none" stroke="#6c6d71" stroke-width="2.4" stroke-linecap="round" stroke-linejoin="round" />
<polyline points="139.0,387.2 174.0,418.7" fill="none" stroke="#a2a3a7" stroke-width="5.0" stroke-linecap="round" stroke-linejoin="round" opacity="0.55"/>
<polygon points="157.4,379.4 197.9,359.9 232.4,391.4 194.9,411.9" fill="url(#gFlap)" />
<polyline points="195.9,411.1 231.4,390.6" fill="none" stroke="#6c6d71" stroke-width="2.4" stroke-linecap="round" stroke-linejoin="round" />
<polyline points="177.4,369.6 212.4,401.1" fill="none" stroke="#a2a3a7" stroke-width="5.0" stroke-linecap="round" stroke-linejoin="round" opacity="0.55"/>
<polygon points="195.8,361.8 236.3,342.3 270.8,373.8 233.3,394.3" fill="url(#gFlap)" />
<polyline points="234.3,393.5 269.8,373.0" fill="none" stroke="#6c6d71" stroke-width="2.4" stroke-linecap="round" stroke-linejoin="round" />
<polyline points="215.8,352.0 250.8,383.5" fill="none" stroke="#a2a3a7" stroke-width="5.0" stroke-linecap="round" stroke-linejoin="round" opacity="0.55"/>
<polygon points="234.2,344.2 274.7,324.7 309.2,356.2 271.7,376.7" fill="url(#gFlap)" />
<polyline points="272.7,375.9 308.2,355.4" fill="none" stroke="#6c6d71" stroke-width="2.4" stroke-linecap="round" stroke-linejoin="round" />
<polyline points="254.2,334.4 289.2,365.9" fill="none" stroke="#a2a3a7" stroke-width="5.0" stroke-linecap="round" stroke-linejoin="round" opacity="0.55"/>
<polygon points="272.6,326.6 313.1,307.1 347.6,338.6 310.1,359.1" fill="url(#gFlap)" />
<polyline points="311.1,358.3 346.6,337.8" fill="none" stroke="#6c6d71" stroke-width="2.4" stroke-linecap="round" stroke-linejoin="round" />
<polyline points="292.6,316.8 327.6,348.3" fill="none" stroke="#a2a3a7" stroke-width="5.0" stroke-linecap="round" stroke-linejoin="round" opacity="0.55"/>
<polyline points="157.7,376.2 193.5,408.8" fill="none" stroke="#2c2c2f" stroke-width="2.8" stroke-linecap="round" stroke-linejoin="round" />
<polyline points="161.0,377.2 196.0,409.2" fill="none" stroke="#55565a" stroke-width="3.0" stroke-linecap="round" stroke-linejoin="round" opacity="0.7"/>
<polyline points="154.7,377.7 190.7,410.2" fill="none" stroke="#a6a7ab" stroke-width="1.8" stroke-linecap="round" stroke-linejoin="round" opacity="0.6"/>
<polyline points="196.1,358.6 231.9,391.2" fill="none" stroke="#2c2c2f" stroke-width="2.8" stroke-linecap="round" stroke-linejoin="round" />
<polyline points="199.4,359.6 234.4,391.6" fill="none" stroke="#55565a" stroke-width="3.0" stroke-linecap="round" stroke-linejoin="round" opacity="0.7"/>
<polyline points="193.1,360.1 229.1,392.6" fill="none" stroke="#a6a7ab" stroke-width="1.8" stroke-linecap="round" stroke-linejoin="round" opacity="0.6"/>
<polyline points="234.5,341.0 270.3,373.6" fill="none" stroke="#2c2c2f" stroke-width="2.8" stroke-linecap="round" stroke-linejoin="round" />
<polyline points="237.8,342.0 272.8,374.0" fill="none" stroke="#55565a" stroke-width="3.0" stroke-linecap="round" stroke-linejoin="round" opacity="0.7"/>
<polyline points="231.5,342.5 267.5,375.0" fill="none" stroke="#a6a7ab" stroke-width="1.8" stroke-linecap="round" stroke-linejoin="round" opacity="0.6"/>
<polyline points="272.9,323.4 308.7,356.0" fill="none" stroke="#2c2c2f" stroke-width="2.8" stroke-linecap="round" stroke-linejoin="round" />
<polyline points="276.2,324.4 311.2,356.4" fill="none" stroke="#55565a" stroke-width="3.0" stroke-linecap="round" stroke-linejoin="round" opacity="0.7"/>
<polyline points="269.9,324.9 305.9,357.4" fill="none" stroke="#a6a7ab" stroke-width="1.8" stroke-linecap="round" stroke-linejoin="round" opacity="0.6"/>
<polygon points="84.4,298.4 90.6,293.4 137.4,350.7 133.7,358.9" fill="#a3a4a8" />
<polygon points="137.4,350.7 144.2,360.7 141.9,369.0 133.7,358.9" fill="#8a8b8f" />
<polyline points="84.4,298.4 133.7,358.9" fill="none" stroke="#7c7d81" stroke-width="1.3" stroke-linecap="round" stroke-linejoin="round" />
<polyline points="91.4,292.7 139.4,351.6 145.8,361.9" fill="none" stroke="#4f5054" stroke-width="2.2" stroke-linecap="round" stroke-linejoin="round" />
<polygon points="104.6,309.9 123.3,281.4 173.2,342.6 154.5,371.1" fill="#9c9da1" />
<polygon points="104.6,309.9 111.7,298.9 161.7,360.1 154.5,371.1" fill="#8b8c90" opacity="0.6"/>
<polyline points="129.0,290.8 111.9,317.3" fill="none" stroke="#3e3f43" stroke-width="1.9" stroke-linecap="round" stroke-linejoin="round" />
<polyline points="130.6,292.8 113.6,319.3" fill="none" stroke="#b0b1b5" stroke-width="2.0" stroke-linecap="round" stroke-linejoin="round" opacity="0.65"/>
<polyline points="135.8,299.1 118.7,325.7" fill="none" stroke="#606165" stroke-width="1.5" stroke-linecap="round" stroke-linejoin="round" />
<polyline points="137.4,301.1 120.4,327.7" fill="none" stroke="#b0b1b5" stroke-width="2.0" stroke-linecap="round" stroke-linejoin="round" opacity="0.65"/>
<polyline points="142.6,307.4 125.5,334.0" fill="none" stroke="#3e3f43" stroke-width="1.9" stroke-linecap="round" stroke-linejoin="round" />
<polyline points="144.2,309.4 127.2,336.0" fill="none" stroke="#b0b1b5" stroke-width="2.0" stroke-linecap="round" stroke-linejoin="round" opacity="0.65"/>
<polyline points="149.4,315.8 132.3,342.3" fill="none" stroke="#606165" stroke-width="1.5" stroke-linecap="round" stroke-linejoin="round" />
<polyline points="151.0,317.8 134.0,344.3" fill="none" stroke="#b0b1b5" stroke-width="2.0" stroke-linecap="round" stroke-linejoin="round" opacity="0.65"/>
<polyline points="156.2,324.1 139.1,350.6" fill="none" stroke="#3e3f43" stroke-width="1.9" stroke-linecap="round" stroke-linejoin="round" />
<polyline points="157.8,326.1 140.7,352.7" fill="none" stroke="#b0b1b5" stroke-width="2.0" stroke-linecap="round" stroke-linejoin="round" opacity="0.65"/>
<polyline points="163.0,332.4 145.9,359.0" fill="none" stroke="#606165" stroke-width="1.5" stroke-linecap="round" stroke-linejoin="round" />
<polyline points="164.6,334.4 147.5,361.0" fill="none" stroke="#b0b1b5" stroke-width="2.0" stroke-linecap="round" stroke-linejoin="round" opacity="0.65"/>
<polyline points="169.7,340.8 152.7,367.3" fill="none" stroke="#3e3f43" stroke-width="1.9" stroke-linecap="round" stroke-linejoin="round" />
<polyline points="171.4,342.8 154.3,369.3" fill="none" stroke="#b0b1b5" stroke-width="2.0" stroke-linecap="round" stroke-linejoin="round" opacity="0.65"/>
<polyline points="104.8,311.0 154.1,371.4" fill="none" stroke="#4c4d51" stroke-width="2.2" stroke-linecap="round" stroke-linejoin="round" />
<polygon points="122.8,280.8 129.0,275.8 175.8,333.1 172.1,341.3" fill="#a3a4a8" />
<polygon points="175.8,333.1 182.6,343.1 180.3,351.4 172.1,341.3" fill="#8a8b8f" />
<polyline points="122.8,280.8 172.1,341.3" fill="none" stroke="#7c7d81" stroke-width="1.3" stroke-linecap="round" stroke-linejoin="round" />
<polyline points="129.8,275.1 177.8,334.0 184.2,344.3" fill="none" stroke="#4f5054" stroke-width="2.2" stroke-linecap="round" stroke-linejoin="round" />
<polygon points="143.0,292.3 161.7,263.8 211.6,325.0 192.9,353.5" fill="#9c9da1" />
<polygon points="143.0,292.3 150.1,281.3 200.1,342.5 192.9,353.5" fill="#8b8c90" opacity="0.6"/>
<polyline points="167.4,273.2 150.3,299.7" fill="none" stroke="#3e3f43" stroke-width="1.9" stroke-linecap="round" stroke-linejoin="round" />
<polyline points="169.0,275.2 152.0,301.7" fill="none" stroke="#b0b1b5" stroke-width="2.0" stroke-linecap="round" stroke-linejoin="round" opacity="0.65"/>
<polyline points="174.2,281.5 157.1,308.1" fill="none" stroke="#606165" stroke-width="1.5" stroke-linecap="round" stroke-linejoin="round" />
<polyline points="175.8,283.5 158.8,310.1" fill="none" stroke="#b0b1b5" stroke-width="2.0" stroke-linecap="round" stroke-linejoin="round" opacity="0.65"/>
<polyline points="181.0,289.8 163.9,316.4" fill="none" stroke="#3e3f43" stroke-width="1.9" stroke-linecap="round" stroke-linejoin="round" />
<polyline points="182.6,291.8 165.6,318.4" fill="none" stroke="#b0b1b5" stroke-width="2.0" stroke-linecap="round" stroke-linejoin="round" opacity="0.65"/>
<polyline points="187.8,298.2 170.7,324.7" fill="none" stroke="#606165" stroke-width="1.5" stroke-linecap="round" stroke-linejoin="round" />
<polyline points="189.4,300.2 172.4,326.7" fill="none" stroke="#b0b1b5" stroke-width="2.0" stroke-linecap="round" stroke-linejoin="round" opacity="0.65"/>
<polyline points="194.6,306.5 177.5,333.0" fill="none" stroke="#3e3f43" stroke-width="1.9" stroke-linecap="round" stroke-linejoin="round" />
<polyline points="196.2,308.5 179.1,335.1" fill="none" stroke="#b0b1b5" stroke-width="2.0" stroke-linecap="round" stroke-linejoin="round" opacity="0.65"/>
<polyline points="201.4,314.8 184.3,341.4" fill="none" stroke="#606165" stroke-width="1.5" stroke-linecap="round" stroke-linejoin="round" />
<polyline points="203.0,316.8 185.9,343.4" fill="none" stroke="#b0b1b5" stroke-width="2.0" stroke-linecap="round" stroke-linejoin="round" opacity="0.65"/>
<polyline points="208.1,323.2 191.1,349.7" fill="none" stroke="#3e3f43" stroke-width="1.9" stroke-linecap="round" stroke-linejoin="round" />
<polyline points="209.8,325.2 192.7,351.7" fill="none" stroke="#b0b1b5" stroke-width="2.0" stroke-linecap="round" stroke-linejoin="round" opacity="0.65"/>
<polyline points="143.2,293.4 192.5,353.8" fill="none" stroke="#4c4d51" stroke-width="2.2" stroke-linecap="round" stroke-linejoin="round" />
<polygon points="161.2,263.2 167.4,258.2 214.2,315.5 210.5,323.7" fill="#a3a4a8" />
<polygon points="214.2,315.5 221.0,325.5 218.7,333.8 210.5,323.7" fill="#8a8b8f" />
<polyline points="161.2,263.2 210.5,323.7" fill="none" stroke="#7c7d81" stroke-width="1.3" stroke-linecap="round" stroke-linejoin="round" />
<polyline points="168.2,257.5 216.2,316.4 222.6,326.7" fill="none" stroke="#4f5054" stroke-width="2.2" stroke-linecap="round" stroke-linejoin="round" />
<polygon points="181.4,274.7 200.1,246.2 250.0,307.4 231.3,335.9" fill="#9c9da1" />
<polygon points="181.4,274.7 188.5,263.7 238.5,324.9 231.3,335.9" fill="#8b8c90" opacity="0.6"/>
<polyline points="205.8,255.6 188.7,282.1" fill="none" stroke="#3e3f43" stroke-width="1.9" stroke-linecap="round" stroke-linejoin="round" />
<polyline points="207.4,257.6 190.4,284.1" fill="none" stroke="#b0b1b5" stroke-width="2.0" stroke-linecap="round" stroke-linejoin="round" opacity="0.65"/>
<polyline points="212.6,263.9 195.5,290.5" fill="none" stroke="#606165" stroke-width="1.5" stroke-linecap="round" stroke-linejoin="round" />
<polyline points="214.2,265.9 197.2,292.5" fill="none" stroke="#b0b1b5" stroke-width="2.0" stroke-linecap="round" stroke-linejoin="round" opacity="0.65"/>
<polyline points="219.4,272.2 202.3,298.8" fill="none" stroke="#3e3f43" stroke-width="1.9" stroke-linecap="round" stroke-linejoin="round" />
<polyline points="221.0,274.2 204.0,300.8" fill="none" stroke="#b0b1b5" stroke-width="2.0" stroke-linecap="round" stroke-linejoin="round" opacity="0.65"/>
<polyline points="226.2,280.6 209.1,307.1" fill="none" stroke="#606165" stroke-width="1.5" stroke-linecap="round" stroke-linejoin="round" />
<polyline points="227.8,282.6 210.8,309.1" fill="none" stroke="#b0b1b5" stroke-width="2.0" stroke-linecap="round" stroke-linejoin="round" opacity="0.65"/>
<polyline points="233.0,288.9 215.9,315.4" fill="none" stroke="#3e3f43" stroke-width="1.9" stroke-linecap="round" stroke-linejoin="round" />
<polyline points="234.6,290.9 217.5,317.5" fill="none" stroke="#b0b1b5" stroke-width="2.0" stroke-linecap="round" stroke-linejoin="round" opacity="0.65"/>
<polyline points="239.8,297.2 222.7,323.8" fill="none" stroke="#606165" stroke-width="1.5" stroke-linecap="round" stroke-linejoin="round" />
<polyline points="241.4,299.2 224.3,325.8" fill="none" stroke="#b0b1b5" stroke-width="2.0" stroke-linecap="round" stroke-linejoin="round" opacity="0.65"/>
<polyline points="246.5,305.6 229.5,332.1" fill="none" stroke="#3e3f43" stroke-width="1.9" stroke-linecap="round" stroke-linejoin="round" />
<polyline points="248.2,307.6 231.1,334.1" fill="none" stroke="#b0b1b5" stroke-width="2.0" stroke-linecap="round" stroke-linejoin="round" opacity="0.65"/>
<polyline points="181.6,275.8 230.9,336.2" fill="none" stroke="#4c4d51" stroke-width="2.2" stroke-linecap="round" stroke-linejoin="round" />
<polygon points="199.6,245.6 205.8,240.6 252.6,297.9 248.9,306.1" fill="#a3a4a8" />
<polygon points="252.6,297.9 259.4,307.9 257.1,316.2 248.9,306.1" fill="#8a8b8f" />
<polyline points="199.6,245.6 248.9,306.1" fill="none" stroke="#7c7d81" stroke-width="1.3" stroke-linecap="round" stroke-linejoin="round" />
<polyline points="206.6,239.9 254.6,298.8 261.0,309.1" fill="none" stroke="#4f5054" stroke-width="2.2" stroke-linecap="round" stroke-linejoin="round" />
<polygon points="219.8,257.1 238.5,228.6 288.4,289.8 269.7,318.3" fill="#9c9da1" />
<polygon points="219.8,257.1 226.9,246.1 276.9,307.3 269.7,318.3" fill="#8b8c90" opacity="0.6"/>
<polyline points="244.2,238.0 227.1,264.5" fill="none" stroke="#3e3f43" stroke-width="1.9" stroke-linecap="round" stroke-linejoin="round" />
<polyline points="245.8,240.0 228.8,266.5" fill="none" stroke="#b0b1b5" stroke-width="2.0" stroke-linecap="round" stroke-linejoin="round" opacity="0.65"/>
<polyline points="251.0,246.3 233.9,272.9" fill="none" stroke="#606165" stroke-width="1.5" stroke-linecap="round" stroke-linejoin="round" />
<polyline points="252.6,248.3 235.6,274.9" fill="none" stroke="#b0b1b5" stroke-width="2.0" stroke-linecap="round" stroke-linejoin="round" opacity="0.65"/>
<polyline points="257.8,254.6 240.7,281.2" fill="none" stroke="#3e3f43" stroke-width="1.9" stroke-linecap="round" stroke-linejoin="round" />
<polyline points="259.4,256.6 242.4,283.2" fill="none" stroke="#b0b1b5" stroke-width="2.0" stroke-linecap="round" stroke-linejoin="round" opacity="0.65"/>
<polyline points="264.6,263.0 247.5,289.5" fill="none" stroke="#606165" stroke-width="1.5" stroke-linecap="round" stroke-linejoin="round" />
<polyline points="266.2,265.0 249.2,291.5" fill="none" stroke="#b0b1b5" stroke-width="2.0" stroke-linecap="round" stroke-linejoin="round" opacity="0.65"/>
<polyline points="271.4,271.3 254.3,297.8" fill="none" stroke="#3e3f43" stroke-width="1.9" stroke-linecap="round" stroke-linejoin="round" />
<polyline points="273.0,273.3 255.9,299.9" fill="none" stroke="#b0b1b5" stroke-width="2.0" stroke-linecap="round" stroke-linejoin="round" opacity="0.65"/>
<polyline points="278.2,279.6 261.1,306.2" fill="none" stroke="#606165" stroke-width="1.5" stroke-linecap="round" stroke-linejoin="round" />
<polyline points="279.8,281.6 262.7,308.2" fill="none" stroke="#b0b1b5" stroke-width="2.0" stroke-linecap="round" stroke-linejoin="round" opacity="0.65"/>
<polyline points="284.9,288.0 267.9,314.5" fill="none" stroke="#3e3f43" stroke-width="1.9" stroke-linecap="round" stroke-linejoin="round" />
<polyline points="286.6,290.0 269.5,316.5" fill="none" stroke="#b0b1b5" stroke-width="2.0" stroke-linecap="round" stroke-linejoin="round" opacity="0.65"/>
<polyline points="220.0,258.2 269.3,318.6" fill="none" stroke="#4c4d51" stroke-width="2.2" stroke-linecap="round" stroke-linejoin="round" />
<polygon points="238.0,228.0 244.2,223.0 291.0,280.3 287.3,288.5" fill="#a3a4a8" />
<polygon points="291.0,280.3 297.8,290.3 295.5,298.6 287.3,288.5" fill="#8a8b8f" />
<polyline points="238.0,228.0 287.3,288.5" fill="none" stroke="#7c7d81" stroke-width="1.3" stroke-linecap="round" stroke-linejoin="round" />
<polyline points="245.0,222.3 293.0,281.2 299.4,291.5" fill="none" stroke="#4f5054" stroke-width="2.2" stroke-linecap="round" stroke-linejoin="round" />
<polygon points="122.2,373.2 138.2,360.2 150.2,368.2 153.2,385.2 148.2,396.2 134.2,402.2 124.2,395.2" fill="url(#gFace)" />
<polyline points="123.2,385.2 122.2,373.2 138.2,360.2 150.2,368.2" fill="none" stroke="#b0b1b5" stroke-width="2.2" stroke-linecap="round" stroke-linejoin="round" opacity="0.85"/>
<ellipse cx="136.7" cy="383.4" rx="4.6" ry="3.8" fill="#353538" transform="rotate(-25 136.7 383.4)"/>
<ellipse cx="137.9" cy="384.1" rx="2.3" ry="1.9" fill="#77787c" transform="rotate(-25 136.7 383.4)"/>
<polyline points="124.2,396.2 134.2,403.7 149.2,397.2" fill="none" stroke="#353538" stroke-width="2.2" stroke-linecap="round" stroke-linejoin="round" />
<polyline points="151.2,369.2 154.7,385.2 150.2,396.2" fill="none" stroke="#47484c" stroke-width="2.4" stroke-linecap="round" stroke-linejoin="round" />
<polygon points="160.6,355.6 176.6,342.6 188.6,350.6 191.6,367.6 186.6,378.6 172.6,384.6 162.6,377.6" fill="url(#gFace)" />
<polyline points="161.6,367.6 160.6,355.6 176.6,342.6 188.6,350.6" fill="none" stroke="#b0b1b5" stroke-width="2.2" stroke-linecap="round" stroke-linejoin="round" opacity="0.85"/>
<ellipse cx="175.1" cy="365.8" rx="4.6" ry="3.8" fill="#353538" transform="rotate(-25 175.1 365.8)"/>
<ellipse cx="176.3" cy="366.5" rx="2.3" ry="1.9" fill="#77787c" transform="rotate(-25 175.1 365.8)"/>
<polyline points="162.6,378.6 172.6,386.1 187.6,379.6" fill="none" stroke="#353538" stroke-width="2.2" stroke-linecap="round" stroke-linejoin="round" />
<polyline points="189.6,351.6 193.1,367.6 188.6,378.6" fill="none" stroke="#47484c" stroke-width="2.4" stroke-linecap="round" stroke-linejoin="round" />
<polygon points="199.0,338.0 215.0,325.0 227.0,333.0 230.0,350.0 225.0,361.0 211.0,367.0 201.0,360.0" fill="url(#gFace)" />
<polyline points="200.0,350.0 199.0,338.0 215.0,325.0 227.0,333.0" fill="none" stroke="#b0b1b5" stroke-width="2.2" stroke-linecap="round" stroke-linejoin="round" opacity="0.85"/>
<ellipse cx="213.5" cy="348.2" rx="4.6" ry="3.8" fill="#353538" transform="rotate(-25 213.5 348.2)"/>
<ellipse cx="214.7" cy="348.9" rx="2.3" ry="1.9" fill="#77787c" transform="rotate(-25 213.5 348.2)"/>
<polyline points="201.0,361.0 211.0,368.5 226.0,362.0" fill="none" stroke="#353538" stroke-width="2.2" stroke-linecap="round" stroke-linejoin="round" />
<polyline points="228.0,334.0 231.5,350.0 227.0,361.0" fill="none" stroke="#47484c" stroke-width="2.4" stroke-linecap="round" stroke-linejoin="round" />
<polygon points="237.4,320.4 253.4,307.4 265.4,315.4 268.4,332.4 263.4,343.4 249.4,349.4 239.4,342.4" fill="url(#gFace)" />
<polyline points="238.4,332.4 237.4,320.4 253.4,307.4 265.4,315.4" fill="none" stroke="#b0b1b5" stroke-width="2.2" stroke-linecap="round" stroke-linejoin="round" opacity="0.85"/>
<ellipse cx="251.9" cy="330.6" rx="4.6" ry="3.8" fill="#353538" transform="rotate(-25 251.9 330.6)"/>
<ellipse cx="253.1" cy="331.3" rx="2.3" ry="1.9" fill="#77787c" transform="rotate(-25 251.9 330.6)"/>
<polyline points="239.4,343.4 249.4,350.9 264.4,344.4" fill="none" stroke="#353538" stroke-width="2.2" stroke-linecap="round" stroke-linejoin="round" />
<polyline points="266.4,316.4 269.9,332.4 265.4,343.4" fill="none" stroke="#47484c" stroke-width="2.4" stroke-linecap="round" stroke-linejoin="round" />
<polygon points="275.8,302.8 291.8,289.8 303.8,297.8 306.8,314.8 301.8,325.8 287.8,331.8 277.8,324.8" fill="url(#gFace)" />
<polyline points="276.8,314.8 275.8,302.8 291.8,289.8 303.8,297.8" fill="none" stroke="#b0b1b5" stroke-width="2.2" stroke-linecap="round" stroke-linejoin="round" opacity="0.85"/>
<ellipse cx="290.3" cy="313.0" rx="4.6" ry="3.8" fill="#353538" transform="rotate(-25 290.3 313.0)"/>
<ellipse cx="291.5" cy="313.7" rx="2.3" ry="1.9" fill="#77787c" transform="rotate(-25 290.3 313.0)"/>
<polyline points="277.8,325.8 287.8,333.3 302.8,326.8" fill="none" stroke="#353538" stroke-width="2.2" stroke-linecap="round" stroke-linejoin="round" />
<polyline points="304.8,298.8 308.3,314.8 303.8,325.8" fill="none" stroke="#47484c" stroke-width="2.4" stroke-linecap="round" stroke-linejoin="round" />
<polygon points="37.0,303.0 52.0,296.0 62.0,300.0 72.0,308.0 84.0,316.0 74.0,326.0 58.0,330.0 44.0,318.0" fill="#8e8f93" />
<polygon points="37.0,303.0 52.0,296.0 60.0,300.0 46.0,308.0" fill="#a0a1a5" />
<polygon points="49.2,295.2 62.2,293.2 67.2,303.2 76.2,303.2 80.2,297.2 89.2,293.2 98.7,287.7 104.2,293.2 93.2,306.2 74.2,316.2 58.2,309.2" fill="#98999d" />
<polyline points="58.2,309.2 74.2,316.2 93.2,306.2 104.2,293.2" fill="none" stroke="#6d6e72" stroke-width="2.0" stroke-linecap="round" stroke-linejoin="round" />
<polyline points="80.2,297.2 89.2,293.2 98.7,287.7" fill="none" stroke="#acadb1" stroke-width="1.6" stroke-linecap="round" stroke-linejoin="round" opacity="0.8"/>
<polygon points="59.2,281.2 65.2,276.7 75.2,277.2 78.7,282.2 80.7,297.2 76.2,303.7 67.2,303.7 62.2,293.2" fill="#9d9ea2" />
<polygon points="59.2,281.2 65.2,276.7 75.2,277.2 78.7,282.2 71.2,284.7 63.2,284.7" fill="#b0b1b5" />
<polygon points="59.2,281.2 63.2,284.7 67.2,303.7 62.2,293.2" fill="#85868a" />
<polygon points="78.7,282.2 80.7,297.2 76.2,303.7 74.2,287.2" fill="#8e8f93" />
<polygon points="87.6,277.6 100.6,275.6 105.6,285.6 114.6,285.6 118.6,279.6 127.6,275.6 137.1,270.1 142.6,275.6 131.6,288.6 112.6,298.6 96.6,291.6" fill="#98999d" />
<polyline points="96.6,291.6 112.6,298.6 131.6,288.6 142.6,275.6" fill="none" stroke="#6d6e72" stroke-width="2.0" stroke-linecap="round" stroke-linejoin="round" />
<polyline points="118.6,279.6 127.6,275.6 137.1,270.1" fill="none" stroke="#acadb1" stroke-width="1.6" stroke-linecap="round" stroke-linejoin="round" opacity="0.8"/>
<polygon points="97.6,263.6 103.6,259.1 113.6,259.6 117.1,264.6 119.1,279.6 114.6,286.1 105.6,286.1 100.6,275.6" fill="#9d9ea2" />
<polygon points="97.6,263.6 103.6,259.1 113.6,259.6 117.1,264.6 109.6,267.1 101.6,267.1" fill="#b0b1b5" />
<polygon points="97.6,263.6 101.6,267.1 105.6,286.1 100.6,275.6" fill="#85868a" />
<polygon points="117.1,264.6 119.1,279.6 114.6,286.1 112.6,269.6" fill="#8e8f93" />
<polygon points="126.0,260.0 139.0,258.0 144.0,268.0 153.0,268.0 157.0,262.0 166.0,258.0 175.5,252.5 181.0,258.0 170.0,271.0 151.0,281.0 135.0,274.0" fill="#98999d" />
<polyline points="135.0,274.0 151.0,281.0 170.0,271.0 181.0,258.0" fill="none" stroke="#6d6e72" stroke-width="2.0" stroke-linecap="round" stroke-linejoin="round" />
<polyline points="157.0,262.0 166.0,258.0 175.5,252.5" fill="none" stroke="#acadb1" stroke-width="1.6" stroke-linecap="round" stroke-linejoin="round" opacity="0.8"/>
<polygon points="136.0,246.0 142.0,241.5 152.0,242.0 155.5,247.0 157.5,262.0 153.0,268.5 144.0,268.5 139.0,258.0" fill="#9d9ea2" />
<polygon points="136.0,246.0 142.0,241.5 152.0,242.0 155.5,247.0 148.0,249.5 140.0,249.5" fill="#b0b1b5" />
<polygon points="136.0,246.0 140.0,249.5 144.0,268.5 139.0,258.0" fill="#85868a" />
<polygon points="155.5,247.0 157.5,262.0 153.0,268.5 151.0,252.0" fill="#8e8f93" />
<polygon points="164.4,242.4 177.4,240.4 182.4,250.4 191.4,250.4 195.4,244.4 204.4,240.4 213.9,234.9 219.4,240.4 208.4,253.4 189.4,263.4 173.4,256.4" fill="#98999d" />
<polyline points="173.4,256.4 189.4,263.4 208.4,253.4 219.4,240.4" fill="none" stroke="#6d6e72" stroke-width="2.0" stroke-linecap="round" stroke-linejoin="round" />
<polyline points="195.4,244.4 204.4,240.4 213.9,234.9" fill="none" stroke="#acadb1" stroke-width="1.6" stroke-linecap="round" stroke-linejoin="round" opacity="0.8"/>
<polygon points="174.4,228.4 180.4,223.9 190.4,224.4 193.9,229.4 195.9,244.4 191.4,250.9 182.4,250.9 177.4,240.4" fill="#9d9ea2" />
<polygon points="174.4,228.4 180.4,223.9 190.4,224.4 193.9,229.4 186.4,231.9 178.4,231.9" fill="#b0b1b5" />
<polygon points="174.4,228.4 178.4,231.9 182.4,250.9 177.4,240.4" fill="#85868a" />
<polygon points="193.9,229.4 195.9,244.4 191.4,250.9 189.4,234.4" fill="#8e8f93" />
<polygon points="202.8,224.8 215.8,222.8 220.8,232.8 229.8,232.8 233.8,226.8 242.8,222.8 252.3,217.3 257.8,222.8 246.8,235.8 227.8,245.8 211.8,238.8" fill="#98999d" />
<polyline points="211.8,238.8 227.8,245.8 246.8,235.8 257.8,222.8" fill="none" stroke="#6d6e72" stroke-width="2.0" stroke-linecap="round" stroke-linejoin="round" />
<polyline points="233.8,226.8 242.8,222.8 252.3,217.3" fill="none" stroke="#acadb1" stroke-width="1.6" stroke-linecap="round" stroke-linejoin="round" opacity="0.8"/>
<polygon points="212.8,210.8 218.8,206.3 228.8,206.8 232.3,211.8 234.3,226.8 229.8,233.3 220.8,233.3 215.8,222.8" fill="#9d9ea2" />
<polygon points="212.8,210.8 218.8,206.3 228.8,206.8 232.3,211.8 224.8,214.3 216.8,214.3" fill="#b0b1b5" />
<polygon points="212.8,210.8 216.8,214.3 220.8,233.3 215.8,222.8" fill="#85868a" />
<polygon points="232.3,211.8 234.3,226.8 229.8,233.3 227.8,216.8" fill="#8e8f93" />
<polygon points="72.0,322.0 90.0,310.0 128.0,350.0 124.0,396.0 104.0,392.0 86.0,372.0 72.0,350.0" fill="#5d5e62" />
<polygon points="73.0,333.0 76.5,322.0 83.0,317.5 89.5,320.5 87.0,337.0 84.0,356.0 76.0,352.0" fill="#9a9b9f" />
<polygon points="89.5,320.5 94.5,325.5 92.0,343.0 89.0,360.0 84.0,356.0 87.0,337.0" fill="#727377" />
<polyline points="73.0,333.0 76.5,322.0 83.0,317.5" fill="none" stroke="#adaeb2" stroke-width="1.6" stroke-linecap="round" stroke-linejoin="round" opacity="0.8"/>
<polygon points="84.3,344.4 87.8,333.4 94.3,328.9 100.8,331.9 98.3,348.4 95.3,367.4 87.3,363.4" fill="#9a9b9f" />
<polygon points="100.8,331.9 105.8,336.9 103.3,354.4 100.3,371.4 95.3,367.4 98.3,348.4" fill="#727377" />
<polyline points="84.3,344.4 87.8,333.4 94.3,328.9" fill="none" stroke="#adaeb2" stroke-width="1.6" stroke-linecap="round" stroke-linejoin="round" opacity="0.8"/>
<polygon points="95.6,355.8 99.1,344.8 105.6,340.3 112.1,343.3 109.6,359.8 106.6,378.8 98.6,374.8" fill="#9a9b9f" />
<polygon points="112.1,343.3 117.1,348.3 114.6,365.8 111.6,382.8 106.6,378.8 109.6,359.8" fill="#727377" />
<polyline points="95.6,355.8 99.1,344.8 105.6,340.3" fill="none" stroke="#adaeb2" stroke-width="1.6" stroke-linecap="round" stroke-linejoin="round" opacity="0.8"/>
<polygon points="106.9,367.2 110.4,356.2 116.9,351.7 123.4,354.7 120.9,371.2 117.9,390.2 109.9,386.2" fill="#9a9b9f" />
<polygon points="123.4,354.7 128.4,359.7 125.9,377.2 122.9,394.2 117.9,390.2 120.9,371.2" fill="#727377" />
<polyline points="106.9,367.2 110.4,356.2 116.9,351.7" fill="none" stroke="#adaeb2" stroke-width="1.6" stroke-linecap="round" stroke-linejoin="round" opacity="0.8"/>
<polygon points="262.0,234.0 268.0,222.0 276.0,216.0 288.0,219.0 305.0,236.0 326.0,253.0 337.0,272.0 338.0,285.0 332.0,296.0 322.0,303.0 306.0,298.0 284.0,270.0" fill="#5c5d61" />
<polygon points="265.0,232.0 270.0,221.0 277.0,216.5 283.0,219.0 279.0,233.0 273.0,257.0 264.0,253.0" fill="#9c9da1" />
<polygon points="283.0,219.0 288.5,223.0 285.0,240.0 281.0,259.0 273.0,257.0 279.0,233.0" fill="#707175" />
<polyline points="265.0,232.0 270.0,221.0 277.0,216.5" fill="none" stroke="#aeafb3" stroke-width="1.6" stroke-linecap="round" stroke-linejoin="round" opacity="0.8"/>
<polygon points="283.5,247.0 288.5,236.0 295.5,231.5 301.5,234.0 297.5,248.0 291.5,272.0 282.5,268.0" fill="#9c9da1" />
<polygon points="301.5,234.0 307.0,238.0 303.5,255.0 299.5,274.0 291.5,272.0 297.5,248.0" fill="#707175" />
<polyline points="283.5,247.0 288.5,236.0 295.5,231.5" fill="none" stroke="#aeafb3" stroke-width="1.6" stroke-linecap="round" stroke-linejoin="round" opacity="0.8"/>
<polygon points="300.0,262.0 304.0,250.0 311.0,246.0 318.0,249.0 315.0,262.0 312.0,286.0 302.0,283.0" fill="#9c9da1" />
<polygon points="318.0,249.0 328.0,255.0 336.0,270.0 338.0,284.0 332.0,296.0 322.0,303.0 312.0,297.0 312.0,286.0 315.0,262.0" fill="#94959a" />
<polygon points="318.0,249.0 328.0,255.0 336.0,270.0 338.0,284.0 334.0,286.0 330.0,268.0 322.0,258.0 316.0,256.0" fill="#a6a7ab" />
<ellipse cx="325" cy="285.5" rx="4.9" ry="4.3" fill="#353538"/>
<ellipse cx="326.3" cy="286.4" rx="2.4" ry="2.0" fill="#77787c"/>
</g>
</svg>
</body></html>
